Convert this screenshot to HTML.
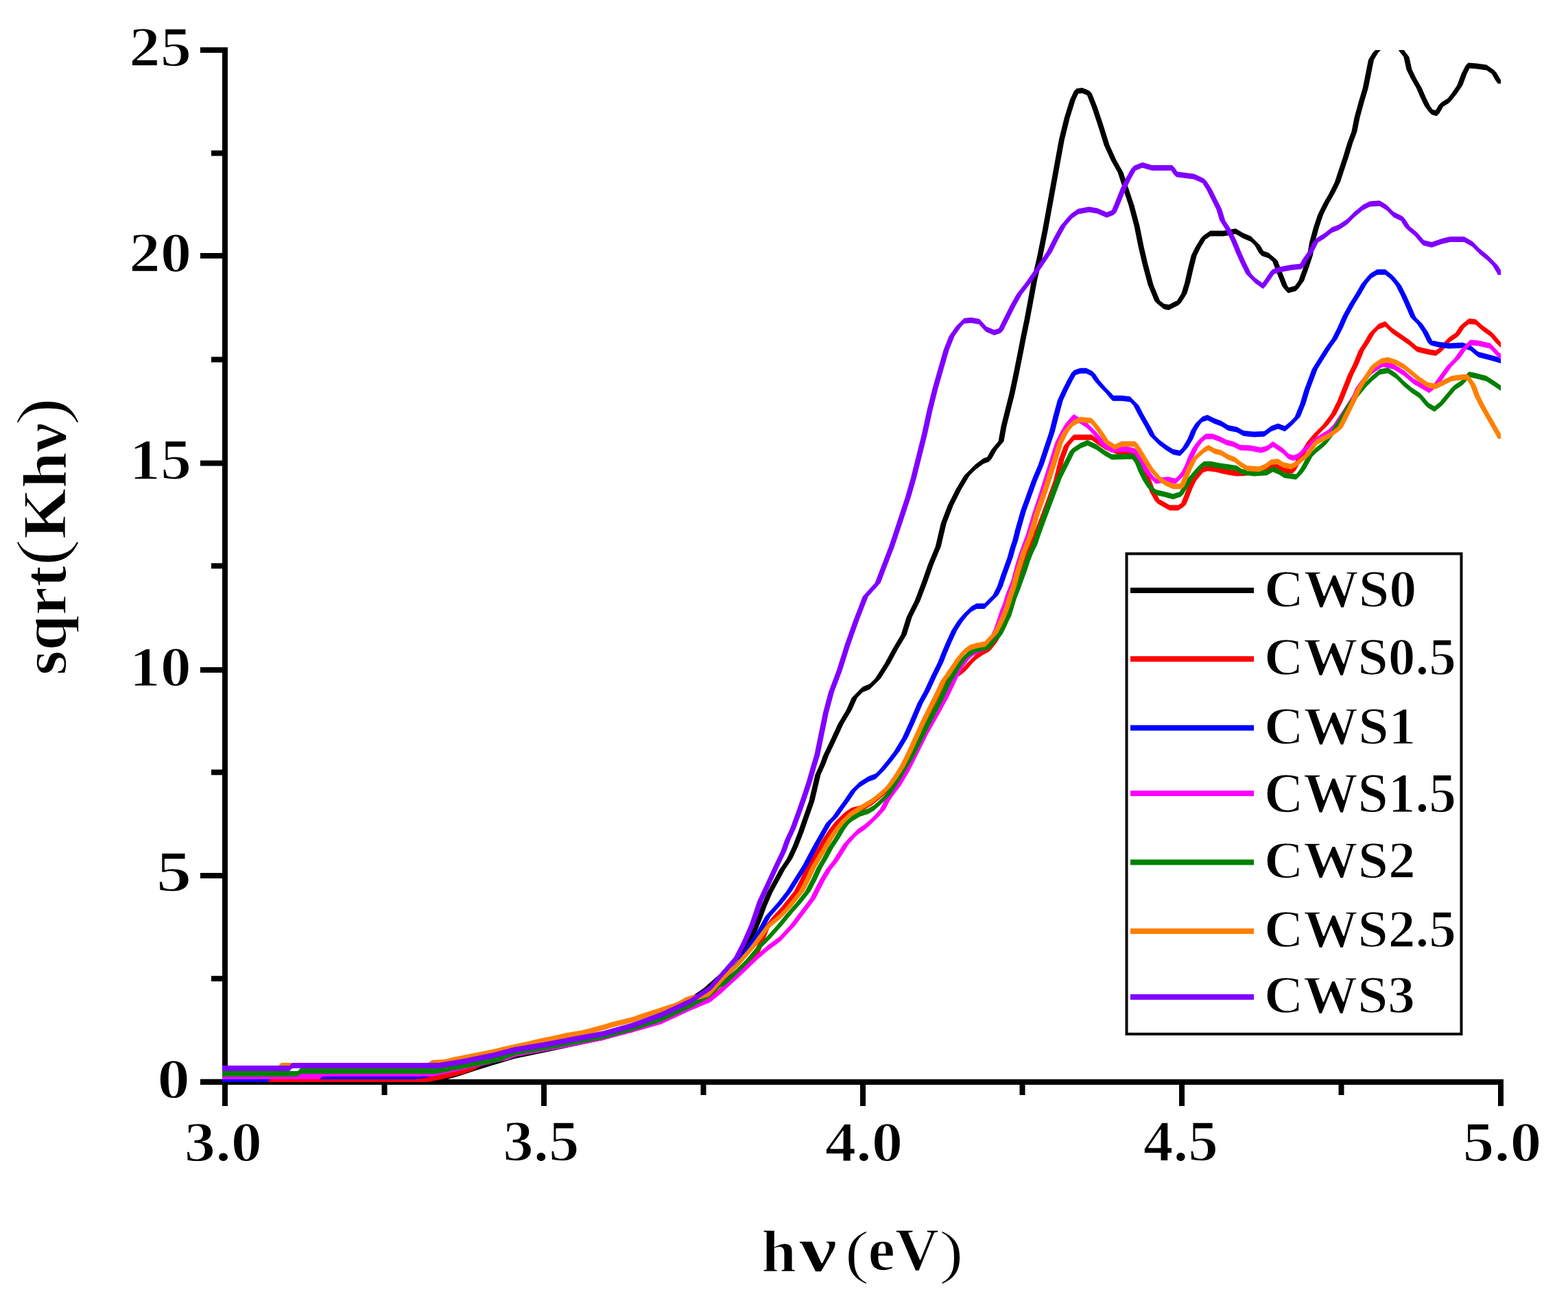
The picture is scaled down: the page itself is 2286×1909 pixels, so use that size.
<!DOCTYPE html><html><head><meta charset="utf-8"><title>sqrt(Khv) vs hv</title><style>html,body{margin:0;padding:0;background:#fff;}svg{display:block;}</style></head><body>
<svg width="2286" height="1909" viewBox="0 0 2286 1909">
<rect x="0" y="0" width="2286" height="1909" fill="#fff"/>
<defs><clipPath id="pc"><rect x="324" y="73" width="1864" height="1505"/></clipPath></defs>
<rect x="324" y="69" width="8" height="1544" fill="#000"/>
<rect x="292" y="1574" width="1900" height="8" fill="#000"/>
<rect x="292" y="69.0" width="32" height="8" fill="#000"/>
<rect x="292" y="369.0" width="32" height="8" fill="#000"/>
<rect x="292" y="671.5" width="32" height="8" fill="#000"/>
<rect x="292" y="973.0" width="32" height="8" fill="#000"/>
<rect x="292" y="1273.0" width="32" height="8" fill="#000"/>
<rect x="292" y="1573.7" width="32" height="8" fill="#000"/>
<rect x="308" y="219.4" width="16" height="8" fill="#000"/>
<rect x="308" y="520.4" width="16" height="8" fill="#000"/>
<rect x="308" y="821.3" width="16" height="8" fill="#000"/>
<rect x="308" y="1122.3" width="16" height="8" fill="#000"/>
<rect x="308" y="1423.2" width="16" height="8" fill="#000"/>
<rect x="324.0" y="1581" width="8" height="32" fill="#000"/>
<rect x="789.0" y="1581" width="8" height="32" fill="#000"/>
<rect x="1254.0" y="1581" width="8" height="32" fill="#000"/>
<rect x="1719.0" y="1581" width="8" height="32" fill="#000"/>
<rect x="2184.0" y="1581" width="8" height="32" fill="#000"/>
<rect x="556.5" y="1581" width="8" height="16" fill="#000"/>
<rect x="1021.5" y="1581" width="8" height="16" fill="#000"/>
<rect x="1486.5" y="1581" width="8" height="16" fill="#000"/>
<rect x="1951.5" y="1581" width="8" height="16" fill="#000"/>
<g clip-path="url(#pc)">
<path fill="#000000" stroke="none" d="M316.0,1574.0L610.0,1574.0L610.0,1582.0L316.0,1582.0ZM610.0,1574.0L626.0,1573.0L626.0,1581.0L610.0,1582.0ZM626.0,1573.0L642.0,1569.0L642.0,1577.0L626.0,1581.0ZM642.0,1569.0L656.0,1565.0L656.0,1573.0L642.0,1577.0ZM656.0,1565.0L670.0,1561.0L670.0,1569.0L656.0,1573.0ZM670.0,1561.0L682.0,1557.0L682.0,1565.0L670.0,1569.0ZM682.0,1557.0L694.0,1553.0L694.0,1561.0L682.0,1565.0ZM694.0,1553.0L720.0,1545.0L720.0,1553.0L694.0,1561.0ZM720.0,1545.0L750.0,1536.0L750.0,1544.0L720.0,1553.0ZM750.0,1536.0L792.9,1527.0L792.9,1535.0L750.0,1544.0ZM792.9,1527.0L835.7,1518.0L835.7,1526.0L792.9,1535.0ZM835.7,1518.0L878.6,1509.0L878.6,1517.0L835.7,1526.0ZM878.6,1509.0L921.4,1497.0L921.4,1505.0L878.6,1517.0ZM921.4,1497.0L964.3,1482.0L964.3,1490.0L921.4,1505.0ZM964.3,1482.0L1000.0,1459.0L1000.0,1467.0L964.3,1490.0ZM1000.0,1459.0L1026.0,1441.0L1026.0,1449.0L1000.0,1467.0ZM1026.0,1441.0L1051.0,1419.0L1051.0,1427.0L1026.0,1449.0ZM1047.0,1423.0L1070.0,1397.0L1078.0,1397.0L1055.0,1423.0ZM1074.0,1393.0L1082.0,1387.0L1082.0,1395.0L1074.0,1401.0ZM1078.0,1391.0L1086.0,1377.5L1094.0,1377.5L1086.0,1391.0ZM1086.0,1377.5L1094.0,1361.6L1102.0,1361.6L1094.0,1377.5ZM1094.0,1361.6L1102.0,1342.0L1110.0,1342.0L1102.0,1361.6ZM1102.0,1342.0L1110.0,1320.5L1118.0,1320.5L1110.0,1342.0ZM1110.0,1320.5L1118.0,1302.0L1126.0,1302.0L1118.0,1320.5ZM1118.0,1302.0L1131.0,1278.0L1139.0,1278.0L1126.0,1302.0ZM1131.0,1278.0L1136.0,1268.8L1144.0,1268.8L1139.0,1278.0ZM1136.0,1268.8L1147.4,1251.7L1155.4,1251.7L1144.0,1268.8ZM1147.4,1251.7L1155.4,1234.5L1163.4,1234.5L1155.4,1251.7ZM1155.4,1234.5L1163.4,1214.0L1171.4,1214.0L1163.4,1234.5ZM1163.4,1214.0L1171.3,1191.2L1179.3,1191.2L1171.4,1214.0ZM1171.3,1191.2L1179.3,1168.4L1187.3,1168.4L1179.3,1191.2ZM1179.3,1168.4L1183.9,1149.0L1191.9,1149.0L1187.3,1168.4ZM1183.9,1149.0L1188.5,1129.6L1196.5,1129.6L1191.9,1149.0ZM1188.5,1129.6L1195.3,1114.8L1203.3,1114.8L1196.5,1129.6ZM1195.3,1114.8L1199.9,1102.3L1207.9,1102.3L1203.3,1114.8ZM1199.9,1102.3L1209.8,1081.4L1217.8,1081.4L1207.9,1102.3ZM1209.8,1081.4L1221.8,1055.5L1229.8,1055.5L1217.8,1081.4ZM1221.8,1055.5L1233.8,1035.6L1241.8,1035.6L1229.8,1055.5ZM1233.8,1035.6L1241.8,1017.6L1249.8,1017.6L1241.8,1035.6ZM1241.8,1017.6L1253.7,1005.6L1261.7,1005.6L1249.8,1017.6ZM1257.7,1001.6L1267.7,997.6L1267.7,1005.6L1257.7,1009.6ZM1267.7,997.6L1279.7,985.7L1279.7,993.7L1267.7,1005.6ZM1275.7,989.7L1289.7,967.7L1297.7,967.7L1283.7,989.7ZM1289.7,967.7L1301.6,945.8L1309.6,945.8L1297.7,967.7ZM1301.6,945.8L1313.6,925.8L1321.6,925.8L1309.6,945.8ZM1313.6,925.8L1321.6,899.9L1329.6,899.9L1321.6,925.8ZM1321.6,899.9L1333.6,876.0L1341.6,876.0L1329.6,899.9ZM1333.6,876.0L1343.5,850.0L1351.5,850.0L1341.6,876.0ZM1343.5,850.0L1353.0,823.0L1361.0,823.0L1351.5,850.0ZM1353.0,823.0L1363.7,797.2L1371.7,797.2L1361.0,823.0ZM1363.7,797.2L1371.7,763.2L1379.7,763.2L1371.7,797.2ZM1371.7,763.2L1381.7,737.3L1389.7,737.3L1379.7,763.2ZM1381.7,737.3L1393.6,713.4L1401.6,713.4L1389.7,737.3ZM1393.6,713.4L1405.6,693.4L1413.6,693.4L1401.6,713.4ZM1409.6,689.4L1421.6,677.4L1421.6,685.4L1409.6,697.4ZM1421.6,677.4L1433.6,668.5L1433.6,676.5L1421.6,685.4ZM1433.6,668.5L1441.5,665.5L1441.5,673.5L1433.6,676.5ZM1437.5,669.5L1445.5,655.5L1453.5,655.5L1445.5,669.5ZM1445.5,655.5L1455.5,643.5L1463.5,643.5L1453.5,655.5ZM1455.5,643.5L1459.5,621.6L1467.5,621.6L1463.5,643.5ZM1459.5,621.6L1465.5,597.6L1473.5,597.6L1467.5,621.6ZM1465.5,597.6L1471.5,573.7L1479.5,573.7L1473.5,597.6ZM1471.5,573.7L1477.4,545.8L1485.4,545.8L1479.5,573.7ZM1477.4,545.8L1483.4,515.8L1491.4,515.8L1485.4,545.8ZM1483.4,515.8L1488.4,489.9L1496.4,489.9L1491.4,515.8ZM1488.4,489.9L1493.4,466.0L1501.4,466.0L1496.4,489.9ZM1493.4,466.0L1496.9,447.2L1504.9,447.2L1501.4,466.0ZM1496.9,447.2L1503.9,409.3L1511.9,409.3L1504.9,447.2ZM1503.9,409.3L1511.8,375.3L1519.8,375.3L1511.9,409.3ZM1511.8,375.3L1519.8,335.4L1527.8,335.4L1519.8,375.3ZM1519.8,335.4L1527.8,291.5L1535.8,291.5L1527.8,335.4ZM1527.8,291.5L1535.8,247.6L1543.8,247.6L1535.8,291.5ZM1535.8,247.6L1543.8,203.7L1551.8,203.7L1543.8,247.6ZM1543.8,203.7L1551.7,171.8L1559.7,171.8L1551.8,203.7ZM1551.7,171.8L1559.7,145.9L1567.7,145.9L1559.7,171.8ZM1559.7,145.9L1565.7,132.9L1573.7,132.9L1567.7,145.9ZM1569.7,128.9L1577.7,127.9L1577.7,135.9L1569.7,136.9ZM1577.7,127.9L1587.7,131.9L1587.7,139.9L1577.7,135.9ZM1591.7,135.9L1599.6,155.9L1591.6,155.9L1583.7,135.9ZM1599.6,155.9L1607.6,179.8L1599.6,179.8L1591.6,155.9ZM1607.6,179.8L1617.6,211.7L1609.6,211.7L1599.6,179.8ZM1617.6,211.7L1627.6,233.7L1619.6,233.7L1609.6,211.7ZM1627.6,233.7L1637.6,251.6L1629.6,251.6L1619.6,233.7ZM1637.6,251.6L1645.5,275.6L1637.5,275.6L1629.6,251.6ZM1645.5,275.6L1653.5,299.5L1645.5,299.5L1637.5,275.6ZM1653.5,299.5L1661.5,329.5L1653.5,329.5L1645.5,299.5ZM1661.5,329.5L1667.5,359.4L1659.5,359.4L1653.5,329.5ZM1667.5,359.4L1673.5,385.3L1665.5,385.3L1659.5,359.4ZM1673.5,385.3L1681.5,415.2L1673.5,415.2L1665.5,385.3ZM1681.5,415.2L1691.4,439.2L1683.4,439.2L1673.5,415.2ZM1687.4,435.2L1697.0,443.0L1697.0,451.0L1687.4,443.2ZM1697.0,443.0L1704.0,444.3L1704.0,452.3L1697.0,451.0ZM1704.0,444.3L1718.3,437.1L1718.3,445.1L1704.0,452.3ZM1714.3,441.1L1722.3,428.3L1730.3,428.3L1722.3,441.1ZM1722.3,428.3L1727.1,412.4L1735.1,412.4L1730.3,428.3ZM1727.1,412.4L1731.9,391.6L1739.9,391.6L1735.1,412.4ZM1731.9,391.6L1736.7,372.5L1744.7,372.5L1739.9,391.6ZM1736.7,372.5L1743.1,359.7L1751.1,359.7L1744.7,372.5ZM1743.1,359.7L1751.0,346.9L1759.0,346.9L1751.1,359.7ZM1755.0,342.9L1764.6,336.5L1764.6,344.5L1755.0,350.9ZM1764.6,336.5L1783.8,336.5L1783.8,344.5L1764.6,344.5ZM1783.8,336.5L1801.4,333.3L1801.4,341.3L1783.8,344.5ZM1801.4,333.3L1812.5,339.7L1812.5,347.7L1801.4,341.3ZM1812.5,339.7L1823.7,344.5L1823.7,352.5L1812.5,347.7ZM1827.7,348.5L1837.3,358.1L1829.3,358.1L1819.7,348.5ZM1837.3,358.1L1843.7,369.3L1835.7,369.3L1829.3,358.1ZM1839.7,365.3L1849.3,368.5L1849.3,376.5L1839.7,373.3ZM1849.3,368.5L1858.8,376.4L1858.8,384.4L1849.3,376.5ZM1862.8,380.4L1870.8,401.2L1862.8,401.2L1854.8,380.4ZM1870.8,401.2L1877.2,417.2L1869.2,417.2L1862.8,401.2ZM1877.2,417.2L1882.0,423.6L1874.0,423.6L1869.2,417.2ZM1878.0,419.6L1889.2,416.4L1889.2,424.4L1878.0,427.6ZM1885.2,420.4L1893.2,409.2L1901.2,409.2L1893.2,420.4ZM1893.2,409.2L1899.6,391.6L1907.6,391.6L1901.2,409.2ZM1899.6,391.6L1905.9,372.5L1913.9,372.5L1907.6,391.6ZM1905.9,372.5L1909.1,353.3L1917.1,353.3L1913.9,372.5ZM1909.1,353.3L1915.0,331.5L1923.0,331.5L1917.1,353.3ZM1915.0,331.5L1921.2,313.0L1929.2,313.0L1923.0,331.5ZM1921.2,313.0L1929.4,296.6L1937.4,296.6L1929.2,313.0ZM1929.4,296.6L1937.6,282.2L1945.6,282.2L1937.4,296.6ZM1937.6,282.2L1945.8,265.8L1953.8,265.8L1945.6,282.2ZM1945.8,265.8L1951.9,247.3L1959.9,247.3L1953.8,265.8ZM1951.9,247.3L1958.1,228.8L1966.1,228.8L1959.9,247.3ZM1958.1,228.8L1964.3,208.3L1972.3,208.3L1966.1,228.8ZM1964.3,208.3L1970.4,191.9L1978.4,191.9L1972.3,208.3ZM1970.4,191.9L1974.5,171.4L1982.5,171.4L1978.4,191.9ZM1974.5,171.4L1980.7,148.8L1988.7,148.8L1982.5,171.4ZM1980.7,148.8L1986.8,128.3L1994.8,128.3L1988.7,148.8ZM1986.8,128.3L1990.9,107.7L1998.9,107.7L1994.8,128.3ZM1990.9,107.7L1995.0,87.2L2003.0,87.2L1998.9,107.7ZM1995.0,87.2L2001.2,76.9L2009.2,76.9L2003.0,87.2ZM2001.2,76.9L2008.0,70.0L2016.0,70.0L2009.2,76.9ZM2012.0,66.0L2027.0,54.0L2027.0,62.0L2012.0,74.0ZM2027.0,54.0L2040.0,64.0L2040.0,72.0L2027.0,62.0ZM2044.0,68.0L2048.2,74.9L2040.2,74.9L2036.0,68.0ZM2048.2,74.9L2054.4,83.1L2046.4,83.1L2040.2,74.9ZM2054.4,83.1L2058.5,101.6L2050.5,101.6L2046.4,83.1ZM2058.5,101.6L2064.6,113.9L2056.6,113.9L2050.5,101.6ZM2064.6,113.9L2072.8,128.3L2064.8,128.3L2056.6,113.9ZM2072.8,128.3L2079.0,142.6L2071.0,142.6L2064.8,128.3ZM2079.0,142.6L2085.1,154.9L2077.1,154.9L2071.0,142.6ZM2085.1,154.9L2091.3,163.2L2083.3,163.2L2077.1,154.9ZM2087.3,159.2L2094.5,161.2L2094.5,169.2L2087.3,167.2ZM2090.5,165.2L2097.7,152.9L2105.7,152.9L2098.5,165.2ZM2101.7,148.9L2111.9,142.7L2111.9,150.7L2101.7,156.9ZM2107.9,146.7L2116.1,136.5L2124.1,136.5L2115.9,146.7ZM2116.1,136.5L2124.4,124.2L2132.4,124.2L2124.1,136.5ZM2124.4,124.2L2130.5,107.7L2138.5,107.7L2132.4,124.2ZM2130.5,107.7L2136.7,95.4L2144.7,95.4L2138.5,107.7ZM2140.7,91.4L2153.0,92.4L2153.0,100.4L2140.7,99.4ZM2153.0,92.4L2167.4,94.5L2167.4,102.5L2153.0,100.4ZM2167.4,94.5L2177.6,101.7L2177.6,109.7L2167.4,102.5ZM2181.6,105.7L2188.8,118.0L2180.8,118.0L2173.6,105.7ZM2188.8,118.0L2192.0,122.0L2184.0,122.0L2180.8,118.0ZM1051.0,1419.0L1055.0,1423.0L1051.0,1427.0L1047.0,1423.0ZM1074.0,1393.0L1078.0,1397.0L1074.0,1401.0L1070.0,1397.0ZM1082.0,1387.0L1086.0,1391.0L1082.0,1395.0L1078.0,1391.0ZM1257.7,1001.6L1261.7,1005.6L1257.7,1009.6L1253.7,1005.6ZM1279.7,985.7L1283.7,989.7L1279.7,993.7L1275.7,989.7ZM1409.6,689.4L1413.6,693.4L1409.6,697.4L1405.6,693.4ZM1441.5,665.5L1445.5,669.5L1441.5,673.5L1437.5,669.5ZM1569.7,128.9L1573.7,132.9L1569.7,136.9L1565.7,132.9ZM1587.7,131.9L1591.7,135.9L1587.7,139.9L1583.7,135.9ZM1687.4,435.2L1691.4,439.2L1687.4,443.2L1683.4,439.2ZM1718.3,437.1L1722.3,441.1L1718.3,445.1L1714.3,441.1ZM1755.0,342.9L1759.0,346.9L1755.0,350.9L1751.0,346.9ZM1823.7,344.5L1827.7,348.5L1823.7,352.5L1819.7,348.5ZM1839.7,365.3L1843.7,369.3L1839.7,373.3L1835.7,369.3ZM1858.8,376.4L1862.8,380.4L1858.8,384.4L1854.8,380.4ZM1878.0,419.6L1882.0,423.6L1878.0,427.6L1874.0,423.6ZM1889.2,416.4L1893.2,420.4L1889.2,424.4L1885.2,420.4ZM2012.0,66.0L2016.0,70.0L2012.0,74.0L2008.0,70.0ZM2040.0,64.0L2044.0,68.0L2040.0,72.0L2036.0,68.0ZM2087.3,159.2L2091.3,163.2L2087.3,167.2L2083.3,163.2ZM2094.5,161.2L2098.5,165.2L2094.5,169.2L2090.5,165.2ZM2101.7,148.9L2105.7,152.9L2101.7,156.9L2097.7,152.9ZM2111.9,142.7L2115.9,146.7L2111.9,150.7L2107.9,146.7ZM2140.7,91.4L2144.7,95.4L2140.7,99.4L2136.7,95.4ZM2177.6,101.7L2181.6,105.7L2177.6,109.7L2173.6,105.7Z"/>
<path fill="#ff0000" stroke="none" d="M316.0,1574.0L606.0,1574.0L606.0,1582.0L316.0,1582.0ZM606.0,1574.0L622.0,1570.0L622.0,1578.0L606.0,1582.0ZM622.0,1570.0L644.0,1566.0L644.0,1574.0L622.0,1578.0ZM644.0,1566.0L660.0,1562.0L660.0,1570.0L644.0,1574.0ZM660.0,1562.0L676.0,1558.0L676.0,1566.0L660.0,1570.0ZM676.0,1558.0L690.0,1553.0L690.0,1561.0L676.0,1566.0ZM690.0,1553.0L704.0,1545.0L704.0,1553.0L690.0,1561.0ZM704.0,1545.0L720.0,1541.0L720.0,1549.0L704.0,1553.0ZM720.0,1541.0L740.0,1537.0L740.0,1545.0L720.0,1549.0ZM740.0,1537.0L750.0,1532.4L750.0,1540.4L740.0,1545.0ZM750.0,1532.4L792.9,1524.6L792.9,1532.6L750.0,1540.4ZM792.9,1524.6L835.7,1516.7L835.7,1524.7L792.9,1532.6ZM835.7,1516.7L878.6,1508.0L878.6,1516.0L835.7,1524.7ZM878.6,1508.0L921.4,1496.7L921.4,1504.7L878.6,1516.0ZM921.4,1496.7L964.3,1484.6L964.3,1492.6L921.4,1504.7ZM964.3,1484.6L1007.0,1464.6L1007.0,1472.6L964.3,1492.6ZM1007.0,1464.6L1035.7,1452.4L1035.7,1460.4L1007.0,1472.6ZM1035.7,1452.4L1050.0,1441.0L1050.0,1449.0L1035.7,1460.4ZM1050.0,1441.0L1062.6,1429.0L1062.6,1437.0L1050.0,1449.0ZM1062.6,1429.0L1085.0,1408.0L1085.0,1416.0L1062.6,1437.0ZM1081.0,1412.0L1098.5,1392.0L1106.5,1392.0L1089.0,1412.0ZM1098.5,1392.0L1114.5,1351.3L1122.5,1351.3L1106.5,1392.0ZM1114.5,1351.3L1127.0,1336.0L1135.0,1336.0L1122.5,1351.3ZM1127.0,1336.0L1139.0,1323.0L1147.0,1323.0L1135.0,1336.0ZM1139.0,1323.0L1157.5,1300.0L1165.5,1300.0L1147.0,1323.0ZM1157.5,1300.0L1166.6,1282.4L1174.6,1282.4L1165.5,1300.0ZM1166.6,1282.4L1174.6,1265.3L1182.6,1265.3L1174.6,1282.4ZM1174.6,1265.3L1182.6,1251.7L1190.6,1251.7L1182.6,1265.3ZM1182.6,1251.7L1191.7,1236.8L1199.7,1236.8L1190.6,1251.7ZM1191.7,1236.8L1199.7,1223.1L1207.7,1223.1L1199.7,1236.8ZM1199.7,1223.1L1208.8,1209.5L1216.8,1209.5L1207.7,1223.1ZM1208.8,1209.5L1217.9,1198.1L1225.9,1198.1L1216.8,1209.5ZM1221.9,1194.1L1231.1,1184.9L1231.1,1192.9L1221.9,1202.1ZM1231.1,1184.9L1241.3,1178.1L1241.3,1186.1L1231.1,1192.9ZM1241.3,1178.1L1259.7,1173.3L1259.7,1181.3L1241.3,1186.1ZM1259.7,1173.3L1271.1,1166.4L1271.1,1174.4L1259.7,1181.3ZM1271.1,1166.4L1282.5,1157.3L1282.5,1165.3L1271.1,1174.4ZM1282.5,1157.3L1291.7,1149.3L1291.7,1157.3L1282.5,1165.3ZM1287.7,1153.3L1294.5,1145.3L1302.5,1145.3L1295.7,1153.3ZM1294.5,1145.3L1301.0,1136.1L1309.0,1136.1L1302.5,1145.3ZM1301.0,1136.1L1311.0,1120.4L1319.0,1120.4L1309.0,1136.1ZM1311.0,1120.4L1321.0,1100.6L1329.0,1100.6L1319.0,1120.4ZM1321.0,1100.6L1331.0,1078.8L1339.0,1078.8L1329.0,1100.6ZM1331.0,1078.8L1341.0,1056.6L1349.0,1056.6L1339.0,1078.8ZM1341.0,1056.6L1351.0,1036.6L1359.0,1036.6L1349.0,1056.6ZM1351.0,1036.6L1361.0,1016.6L1369.0,1016.6L1359.0,1036.6ZM1361.0,1016.6L1371.0,995.2L1379.0,995.2L1369.0,1016.6ZM1375.0,991.2L1390.0,983.0L1390.0,991.0L1375.0,999.2ZM1390.0,983.0L1400.0,977.0L1400.0,985.0L1390.0,991.0ZM1400.0,977.0L1406.4,971.7L1406.4,979.7L1400.0,985.0ZM1402.4,975.7L1409.9,966.9L1417.9,966.9L1410.4,975.7ZM1413.9,962.9L1421.4,955.4L1421.4,963.4L1413.9,970.9ZM1421.4,955.4L1426.4,951.6L1426.4,959.6L1421.4,963.4ZM1426.4,951.6L1434.0,946.6L1434.0,954.6L1426.4,959.6ZM1434.0,946.6L1441.5,942.8L1441.5,950.8L1434.0,954.6ZM1437.5,946.8L1446.0,936.0L1454.0,936.0L1445.5,946.8ZM1446.0,936.0L1456.0,918.0L1464.0,918.0L1454.0,936.0ZM1456.0,918.0L1466.0,893.0L1474.0,893.0L1464.0,918.0ZM1466.0,893.0L1476.0,862.0L1484.0,862.0L1474.0,893.0ZM1476.0,862.0L1486.0,830.0L1494.0,830.0L1484.0,862.0ZM1486.0,830.0L1496.0,800.0L1504.0,800.0L1494.0,830.0ZM1496.0,800.0L1505.2,782.5L1513.2,782.5L1504.0,800.0ZM1505.2,782.5L1516.0,755.0L1524.0,755.0L1513.2,782.5ZM1516.0,755.0L1526.0,728.0L1534.0,728.0L1524.0,755.0ZM1526.0,728.0L1535.7,701.6L1543.7,701.6L1534.0,728.0ZM1535.7,701.6L1543.6,669.7L1551.6,669.7L1543.7,701.6ZM1543.6,669.7L1551.0,650.0L1559.0,650.0L1551.6,669.7ZM1551.0,650.0L1561.6,637.8L1569.6,637.8L1559.0,650.0ZM1565.6,633.8L1591.5,633.8L1591.5,641.8L1565.6,641.8ZM1591.5,633.8L1599.5,639.8L1599.5,647.8L1591.5,641.8ZM1599.5,639.8L1611.5,647.8L1611.5,655.8L1599.5,647.8ZM1611.5,647.8L1629.5,654.7L1629.5,662.7L1611.5,655.8ZM1629.5,654.7L1649.4,655.0L1649.4,663.0L1629.5,662.7ZM1649.4,655.0L1655.0,658.0L1655.0,666.0L1649.4,663.0ZM1659.0,662.0L1666.0,675.0L1658.0,675.0L1651.0,662.0ZM1666.0,675.0L1676.6,695.5L1668.6,695.5L1658.0,675.0ZM1676.6,695.5L1684.1,716.8L1676.1,716.8L1668.6,695.5ZM1684.1,716.8L1691.7,730.6L1683.7,730.6L1676.1,716.8ZM1687.7,726.6L1696.4,731.6L1696.4,739.6L1687.7,734.6ZM1696.4,731.6L1705.2,736.6L1705.2,744.6L1696.4,739.6ZM1705.2,736.6L1717.8,736.6L1717.8,744.6L1705.2,744.6ZM1717.8,736.6L1725.3,731.6L1725.3,739.6L1717.8,744.6ZM1721.3,735.6L1726.3,723.0L1734.3,723.0L1729.3,735.6ZM1726.3,723.0L1731.3,710.5L1739.3,710.5L1734.3,723.0ZM1731.3,710.5L1736.4,700.5L1744.4,700.5L1739.3,710.5ZM1736.4,700.5L1742.6,693.0L1750.6,693.0L1744.4,700.5ZM1742.6,693.0L1748.9,685.4L1756.9,685.4L1750.6,693.0ZM1752.9,681.4L1760.4,678.9L1760.4,686.9L1752.9,689.4ZM1760.4,678.9L1771.7,680.2L1771.7,688.2L1760.4,686.9ZM1771.7,680.2L1781.7,682.7L1781.7,690.7L1771.7,688.2ZM1781.7,682.7L1794.3,685.2L1794.3,693.2L1781.7,690.7ZM1794.3,685.2L1803.1,686.5L1803.1,694.5L1794.3,693.2ZM1803.1,686.5L1815.0,686.0L1815.0,694.0L1803.1,694.5ZM1815.0,686.0L1830.0,684.0L1830.0,692.0L1815.0,694.0ZM1830.0,684.0L1845.0,680.0L1845.0,688.0L1830.0,692.0ZM1845.0,680.0L1858.3,673.9L1858.3,681.9L1845.0,688.0ZM1858.3,673.9L1865.8,678.9L1865.8,686.9L1858.3,681.9ZM1865.8,678.9L1878.3,682.7L1878.3,690.7L1865.8,686.9ZM1878.3,682.7L1885.0,682.0L1885.0,690.0L1878.3,690.7ZM1881.0,686.0L1891.0,668.0L1899.0,668.0L1889.0,686.0ZM1891.0,668.0L1905.1,644.9L1913.1,644.9L1899.0,668.0ZM1905.1,644.9L1914.8,633.3L1922.8,633.3L1913.1,644.9ZM1914.8,633.3L1928.3,619.7L1936.3,619.7L1922.8,633.3ZM1928.3,619.7L1940.0,604.2L1948.0,604.2L1936.3,619.7ZM1940.0,604.2L1949.7,584.8L1957.7,584.8L1948.0,604.2ZM1949.7,584.8L1957.4,565.5L1965.4,565.5L1957.7,584.8ZM1957.4,565.5L1965.2,546.1L1973.2,546.1L1965.4,565.5ZM1965.2,546.1L1972.9,530.6L1980.9,530.6L1973.2,546.1ZM1972.9,530.6L1980.7,511.2L1988.7,511.2L1980.9,530.6ZM1980.7,511.2L1988.4,499.6L1996.4,499.6L1988.7,511.2ZM1988.4,499.6L1996.2,486.0L2004.2,486.0L1996.4,499.6ZM2000.2,482.0L2009.9,472.3L2009.9,480.3L2000.2,490.0ZM2009.9,472.3L2019.6,468.4L2019.6,476.4L2009.9,480.3ZM2019.6,468.4L2029.3,478.1L2029.3,486.1L2019.6,476.4ZM2029.3,478.1L2040.9,485.9L2040.9,493.9L2029.3,486.1ZM2040.9,485.9L2054.5,495.6L2054.5,503.6L2040.9,493.9ZM2054.5,495.6L2066.1,505.3L2066.1,513.3L2054.5,503.6ZM2066.1,505.3L2081.6,509.1L2081.6,517.1L2066.1,513.3ZM2081.6,509.1L2093.2,511.1L2093.2,519.1L2081.6,517.1ZM2093.2,511.1L2101.0,505.3L2101.0,513.3L2093.2,519.1ZM2097.0,509.3L2108.6,495.7L2116.6,495.7L2105.0,509.3ZM2112.6,491.7L2124.2,483.9L2124.2,491.9L2112.6,499.7ZM2120.2,487.9L2128.0,476.3L2136.0,476.3L2128.2,487.9ZM2132.0,472.3L2141.7,464.5L2141.7,472.5L2132.0,480.3ZM2141.7,464.5L2151.4,465.5L2151.4,473.5L2141.7,472.5ZM2151.4,465.5L2161.1,474.2L2161.1,482.2L2151.4,473.5ZM2161.1,474.2L2174.6,483.9L2174.6,491.9L2161.1,482.2ZM2178.6,487.9L2188.3,499.6L2180.3,499.6L2170.6,487.9ZM2184.3,495.6L2188.0,499.0L2188.0,507.0L2184.3,503.6ZM1085.0,1408.0L1089.0,1412.0L1085.0,1416.0L1081.0,1412.0ZM1221.9,1194.1L1225.9,1198.1L1221.9,1202.1L1217.9,1198.1ZM1291.7,1149.3L1295.7,1153.3L1291.7,1157.3L1287.7,1153.3ZM1375.0,991.2L1379.0,995.2L1375.0,999.2L1371.0,995.2ZM1406.4,971.7L1410.4,975.7L1406.4,979.7L1402.4,975.7ZM1413.9,962.9L1417.9,966.9L1413.9,970.9L1409.9,966.9ZM1441.5,942.8L1445.5,946.8L1441.5,950.8L1437.5,946.8ZM1565.6,633.8L1569.6,637.8L1565.6,641.8L1561.6,637.8ZM1655.0,658.0L1659.0,662.0L1655.0,666.0L1651.0,662.0ZM1687.7,726.6L1691.7,730.6L1687.7,734.6L1683.7,730.6ZM1725.3,731.6L1729.3,735.6L1725.3,739.6L1721.3,735.6ZM1752.9,681.4L1756.9,685.4L1752.9,689.4L1748.9,685.4ZM1885.0,682.0L1889.0,686.0L1885.0,690.0L1881.0,686.0ZM2000.2,482.0L2004.2,486.0L2000.2,490.0L1996.2,486.0ZM2101.0,505.3L2105.0,509.3L2101.0,513.3L2097.0,509.3ZM2112.6,491.7L2116.6,495.7L2112.6,499.7L2108.6,495.7ZM2124.2,483.9L2128.2,487.9L2124.2,491.9L2120.2,487.9ZM2132.0,472.3L2136.0,476.3L2132.0,480.3L2128.0,476.3ZM2174.6,483.9L2178.6,487.9L2174.6,491.9L2170.6,487.9ZM2184.3,495.6L2188.3,499.6L2184.3,503.6L2180.3,499.6Z"/>
<path fill="#0000ff" stroke="none" d="M316.0,1570.0L390.0,1570.0L390.0,1578.0L316.0,1578.0ZM390.0,1570.0L394.0,1566.0L394.0,1574.0L390.0,1578.0ZM394.0,1566.0L606.0,1566.0L606.0,1574.0L394.0,1574.0ZM606.0,1566.0L620.0,1564.0L620.0,1572.0L606.0,1574.0ZM620.0,1564.0L640.0,1560.0L640.0,1568.0L620.0,1572.0ZM640.0,1560.0L660.0,1553.0L660.0,1561.0L640.0,1568.0ZM660.0,1553.0L688.0,1547.0L688.0,1555.0L660.0,1561.0ZM688.0,1547.0L708.0,1543.0L708.0,1551.0L688.0,1555.0ZM708.0,1543.0L728.0,1539.0L728.0,1547.0L708.0,1551.0ZM728.0,1539.0L750.0,1530.2L750.0,1538.2L728.0,1547.0ZM750.0,1530.2L792.9,1522.8L792.9,1530.8L750.0,1538.2ZM792.9,1522.8L835.7,1514.7L835.7,1522.7L792.9,1530.8ZM835.7,1514.7L878.6,1506.4L878.6,1514.4L835.7,1522.7ZM878.6,1506.4L921.4,1494.7L921.4,1502.7L878.6,1514.4ZM921.4,1494.7L964.3,1480.8L964.3,1488.8L921.4,1502.7ZM964.3,1480.8L1007.0,1460.8L1007.0,1468.8L964.3,1488.8ZM1007.0,1460.8L1035.7,1445.1L1035.7,1453.1L1007.0,1468.8ZM1035.7,1445.1L1050.0,1431.0L1050.0,1439.0L1035.7,1453.1ZM1046.0,1435.0L1058.6,1419.7L1066.6,1419.7L1054.0,1435.0ZM1058.6,1419.7L1075.7,1400.3L1083.7,1400.3L1066.6,1419.7ZM1075.7,1400.3L1087.1,1382.1L1095.1,1382.1L1083.7,1400.3ZM1087.1,1382.1L1104.2,1357.0L1112.2,1357.0L1095.1,1382.1ZM1104.2,1357.0L1115.6,1336.5L1123.6,1336.5L1112.2,1357.0ZM1115.6,1336.5L1133.8,1316.0L1141.8,1316.0L1123.6,1336.5ZM1133.8,1316.0L1146.3,1300.0L1154.3,1300.0L1141.8,1316.0ZM1146.3,1300.0L1158.8,1280.0L1166.8,1280.0L1154.3,1300.0ZM1158.8,1280.0L1170.2,1262.0L1178.2,1262.0L1166.8,1280.0ZM1170.2,1262.0L1179.3,1244.8L1187.3,1244.8L1178.2,1262.0ZM1179.3,1244.8L1187.3,1230.0L1195.3,1230.0L1187.3,1244.8ZM1187.3,1230.0L1196.4,1214.0L1204.4,1214.0L1195.3,1230.0ZM1196.4,1214.0L1204.4,1200.3L1212.4,1200.3L1204.4,1214.0ZM1208.4,1196.3L1217.5,1187.2L1217.5,1195.2L1208.4,1204.3ZM1213.5,1191.2L1221.5,1179.8L1229.5,1179.8L1221.5,1191.2ZM1221.5,1179.8L1230.6,1167.3L1238.6,1167.3L1229.5,1179.8ZM1230.6,1167.3L1239.8,1153.6L1247.8,1153.6L1238.6,1167.3ZM1243.8,1149.6L1252.9,1140.5L1252.9,1148.5L1243.8,1157.6ZM1252.9,1140.5L1265.4,1132.5L1265.4,1140.5L1252.9,1148.5ZM1265.4,1132.5L1276.8,1127.9L1276.8,1135.9L1265.4,1140.5ZM1276.8,1127.9L1286.0,1118.8L1286.0,1126.8L1276.8,1135.9ZM1282.0,1122.8L1293.4,1109.1L1301.4,1109.1L1290.0,1122.8ZM1293.4,1109.1L1303.6,1095.4L1311.6,1095.4L1301.4,1109.1ZM1303.6,1095.4L1315.6,1075.5L1323.6,1075.5L1311.6,1095.4ZM1315.6,1075.5L1325.6,1053.5L1333.6,1053.5L1323.6,1075.5ZM1325.6,1053.5L1337.5,1025.6L1345.5,1025.6L1333.6,1053.5ZM1337.5,1025.6L1347.5,1007.6L1355.5,1007.6L1345.5,1025.6ZM1347.5,1007.6L1357.5,985.7L1365.5,985.7L1355.5,1007.6ZM1357.5,985.7L1367.3,966.0L1375.3,966.0L1365.5,985.7ZM1367.3,966.0L1372.3,953.1L1380.3,953.1L1375.3,966.0ZM1372.3,953.1L1379.8,935.5L1387.8,935.5L1380.3,953.1ZM1379.8,935.5L1387.3,919.2L1395.3,919.2L1387.8,935.5ZM1387.3,919.2L1396.1,905.4L1404.1,905.4L1395.3,919.2ZM1396.1,905.4L1403.6,896.6L1411.6,896.6L1404.1,905.4ZM1407.6,892.6L1416.4,883.9L1416.4,891.9L1407.6,900.6ZM1416.4,883.9L1423.9,880.1L1423.9,888.1L1416.4,891.9ZM1423.9,880.1L1435.2,880.1L1435.2,888.1L1423.9,888.1ZM1435.2,880.1L1442.7,872.6L1442.7,880.6L1435.2,888.1ZM1438.7,876.6L1447.5,867.8L1455.5,867.8L1446.7,876.6ZM1447.5,867.8L1453.8,855.3L1461.8,855.3L1455.5,867.8ZM1453.8,855.3L1458.8,840.2L1466.8,840.2L1461.8,855.3ZM1458.8,840.2L1463.8,826.4L1471.8,826.4L1466.8,840.2ZM1463.8,826.4L1468.8,812.6L1476.8,812.6L1471.8,826.4ZM1468.8,812.6L1472.6,798.8L1480.6,798.8L1476.8,812.6ZM1472.6,798.8L1476.4,787.5L1484.4,787.5L1480.6,798.8ZM1476.4,787.5L1479.8,773.5L1487.8,773.5L1484.4,787.5ZM1479.8,773.5L1487.8,745.5L1495.8,745.5L1487.8,773.5ZM1487.8,745.5L1495.8,723.6L1503.8,723.6L1495.8,745.5ZM1495.8,723.6L1503.7,701.6L1511.7,701.6L1503.8,723.6ZM1503.7,701.6L1513.7,677.7L1521.7,677.7L1511.7,701.6ZM1513.7,677.7L1521.7,653.8L1529.7,653.8L1521.7,677.7ZM1521.7,653.8L1529.7,629.8L1537.7,629.8L1529.7,653.8ZM1529.7,629.8L1535.7,605.9L1543.7,605.9L1537.7,629.8ZM1535.7,605.9L1541.7,583.9L1549.7,583.9L1543.7,605.9ZM1541.7,583.9L1548.6,569.0L1556.6,569.0L1549.7,583.9ZM1548.6,569.0L1556.1,554.2L1564.1,554.2L1556.6,569.0ZM1556.1,554.2L1562.0,543.8L1570.0,543.8L1564.1,554.2ZM1566.0,539.8L1574.9,536.8L1574.9,544.8L1566.0,547.8ZM1574.9,536.8L1583.8,536.8L1583.8,544.8L1574.9,544.8ZM1583.8,536.8L1592.7,541.3L1592.7,549.3L1583.8,544.8ZM1596.7,545.3L1602.6,554.2L1594.6,554.2L1588.7,545.3ZM1602.6,554.2L1611.5,564.5L1603.5,564.5L1594.6,554.2ZM1607.5,560.5L1616.4,569.4L1616.4,577.4L1607.5,568.5ZM1620.4,573.4L1626.3,580.8L1618.3,580.8L1612.4,573.4ZM1622.3,576.8L1635.7,576.8L1635.7,584.8L1622.3,584.8ZM1635.7,576.8L1647.5,578.3L1647.5,586.3L1635.7,584.8ZM1647.5,578.3L1656.4,587.2L1656.4,595.2L1647.5,586.3ZM1660.4,591.2L1666.4,603.1L1658.4,603.1L1652.4,591.2ZM1666.4,603.1L1672.3,613.5L1664.3,613.5L1658.4,603.1ZM1672.3,613.5L1678.2,623.8L1670.2,623.8L1664.3,613.5ZM1678.2,623.8L1684.1,635.3L1676.1,635.3L1670.2,623.8ZM1680.1,631.3L1690.2,641.3L1690.2,649.3L1680.1,639.3ZM1690.2,641.3L1700.2,648.8L1700.2,656.8L1690.2,649.3ZM1700.2,648.8L1710.2,655.1L1710.2,663.1L1700.2,656.8ZM1710.2,655.1L1720.3,657.0L1720.3,665.0L1710.2,663.1ZM1716.3,661.0L1723.8,652.8L1731.8,652.8L1724.3,661.0ZM1723.8,652.8L1731.3,640.3L1739.3,640.3L1731.8,652.8ZM1731.3,640.3L1736.4,627.7L1744.4,627.7L1739.3,640.3ZM1736.4,627.7L1742.6,617.7L1750.6,617.7L1744.4,627.7ZM1746.6,613.7L1752.9,607.4L1752.9,615.4L1746.6,621.7ZM1752.9,607.4L1760.4,604.9L1760.4,612.9L1752.9,615.4ZM1760.4,604.9L1770.5,609.9L1770.5,617.9L1760.4,612.9ZM1770.5,609.9L1780.5,613.7L1780.5,621.7L1770.5,617.9ZM1780.5,613.7L1790.5,620.0L1790.5,628.0L1780.5,621.7ZM1790.5,620.0L1803.1,622.5L1803.1,630.5L1790.5,628.0ZM1803.1,622.5L1813.1,628.1L1813.1,636.1L1803.1,630.5ZM1813.1,628.1L1828.2,629.4L1828.2,637.4L1813.1,636.1ZM1828.2,629.4L1843.2,628.8L1843.2,636.8L1828.2,637.4ZM1843.2,628.8L1853.2,621.2L1853.2,629.2L1843.2,636.8ZM1853.2,621.2L1863.3,617.5L1863.3,625.5L1853.2,629.2ZM1863.3,617.5L1873.3,621.2L1873.3,629.2L1863.3,625.5ZM1873.3,621.2L1882.1,613.7L1882.1,621.7L1873.3,629.2ZM1878.1,617.7L1887.6,608.1L1895.6,608.1L1886.1,617.7ZM1887.6,608.1L1895.4,588.7L1903.4,588.7L1895.6,608.1ZM1895.4,588.7L1901.2,569.3L1909.2,569.3L1903.4,588.7ZM1901.2,569.3L1907.0,553.8L1915.0,553.8L1909.2,569.3ZM1907.0,553.8L1912.8,538.3L1920.8,538.3L1915.0,553.8ZM1912.8,538.3L1922.5,522.8L1930.5,522.8L1920.8,538.3ZM1922.5,522.8L1932.2,507.3L1940.2,507.3L1930.5,522.8ZM1932.2,507.3L1941.9,493.7L1949.9,493.7L1940.2,507.3ZM1941.9,493.7L1949.7,478.2L1957.7,478.2L1949.9,493.7ZM1949.7,478.2L1957.4,460.8L1965.4,460.8L1957.7,478.2ZM1957.4,460.8L1967.1,443.3L1975.1,443.3L1965.4,460.8ZM1967.1,443.3L1976.8,427.8L1984.8,427.8L1975.1,443.3ZM1976.8,427.8L1984.5,414.3L1992.5,414.3L1984.8,427.8ZM1984.5,414.3L1994.2,402.6L2002.2,402.6L1992.5,414.3ZM1998.2,398.6L2007.9,392.8L2007.9,400.8L1998.2,406.6ZM2007.9,392.8L2019.6,392.8L2019.6,400.8L2007.9,400.8ZM2019.6,392.8L2029.3,400.6L2029.3,408.6L2019.6,400.8ZM2033.3,404.6L2042.9,416.2L2034.9,416.2L2025.3,404.6ZM2042.9,416.2L2050.7,431.7L2042.7,431.7L2034.9,416.2ZM2050.7,431.7L2058.5,449.2L2050.5,449.2L2042.7,431.7ZM2058.5,449.2L2064.3,462.7L2056.3,462.7L2050.5,449.2ZM2064.3,462.7L2074.0,472.4L2066.0,472.4L2056.3,462.7ZM2074.0,472.4L2081.7,484.1L2073.7,484.1L2066.0,472.4ZM2081.7,484.1L2089.5,499.6L2081.5,499.6L2073.7,484.1ZM2085.5,495.6L2097.1,498.5L2097.1,506.5L2085.5,503.6ZM2097.1,498.5L2112.6,500.4L2112.6,508.4L2097.1,506.5ZM2112.6,500.4L2132.0,499.4L2132.0,507.4L2112.6,508.4ZM2132.0,499.4L2143.6,503.3L2143.6,511.3L2132.0,507.4ZM2143.6,503.3L2155.2,513.0L2155.2,521.0L2143.6,511.3ZM2155.2,513.0L2170.8,516.9L2170.8,524.9L2155.2,521.0ZM2170.8,516.9L2184.3,520.8L2184.3,528.8L2170.8,524.9ZM2184.3,520.8L2188.0,522.0L2188.0,530.0L2184.3,528.8ZM1050.0,1431.0L1054.0,1435.0L1050.0,1439.0L1046.0,1435.0ZM1208.4,1196.3L1212.4,1200.3L1208.4,1204.3L1204.4,1200.3ZM1217.5,1187.2L1221.5,1191.2L1217.5,1195.2L1213.5,1191.2ZM1243.8,1149.6L1247.8,1153.6L1243.8,1157.6L1239.8,1153.6ZM1286.0,1118.8L1290.0,1122.8L1286.0,1126.8L1282.0,1122.8ZM1407.6,892.6L1411.6,896.6L1407.6,900.6L1403.6,896.6ZM1442.7,872.6L1446.7,876.6L1442.7,880.6L1438.7,876.6ZM1566.0,539.8L1570.0,543.8L1566.0,547.8L1562.0,543.8ZM1592.7,541.3L1596.7,545.3L1592.7,549.3L1588.7,545.3ZM1607.5,560.5L1611.5,564.5L1607.5,568.5L1603.5,564.5ZM1616.4,569.4L1620.4,573.4L1616.4,577.4L1612.4,573.4ZM1622.3,576.8L1626.3,580.8L1622.3,584.8L1618.3,580.8ZM1656.4,587.2L1660.4,591.2L1656.4,595.2L1652.4,591.2ZM1680.1,631.3L1684.1,635.3L1680.1,639.3L1676.1,635.3ZM1720.3,657.0L1724.3,661.0L1720.3,665.0L1716.3,661.0ZM1746.6,613.7L1750.6,617.7L1746.6,621.7L1742.6,617.7ZM1882.1,613.7L1886.1,617.7L1882.1,621.7L1878.1,617.7ZM1998.2,398.6L2002.2,402.6L1998.2,406.6L1994.2,402.6ZM2029.3,400.6L2033.3,404.6L2029.3,408.6L2025.3,404.6ZM2085.5,495.6L2089.5,499.6L2085.5,503.6L2081.5,499.6Z"/>
<path fill="#ff00ff" stroke="none" d="M316.0,1566.0L466.0,1566.0L466.0,1574.0L316.0,1574.0ZM466.0,1566.0L470.0,1562.0L470.0,1570.0L466.0,1574.0ZM470.0,1562.0L630.0,1562.0L630.0,1570.0L470.0,1570.0ZM630.0,1562.0L648.0,1558.0L648.0,1566.0L630.0,1570.0ZM648.0,1558.0L668.0,1554.0L668.0,1562.0L648.0,1566.0ZM668.0,1554.0L684.0,1550.0L684.0,1558.0L668.0,1562.0ZM684.0,1550.0L704.0,1546.0L704.0,1554.0L684.0,1558.0ZM704.0,1546.0L720.0,1542.0L720.0,1550.0L704.0,1554.0ZM720.0,1542.0L740.0,1538.0L740.0,1546.0L720.0,1550.0ZM740.0,1538.0L750.0,1533.4L750.0,1541.4L740.0,1546.0ZM750.0,1533.4L792.9,1525.6L792.9,1533.6L750.0,1541.4ZM792.9,1525.6L835.7,1517.7L835.7,1525.7L792.9,1533.6ZM835.7,1517.7L878.6,1509.0L878.6,1517.0L835.7,1525.7ZM878.6,1509.0L921.4,1497.7L921.4,1505.7L878.6,1517.0ZM921.4,1497.7L964.3,1485.6L964.3,1493.6L921.4,1505.7ZM964.3,1485.6L1007.0,1465.6L1007.0,1473.6L964.3,1493.6ZM1007.0,1465.6L1035.7,1453.4L1035.7,1461.4L1007.0,1473.6ZM1035.7,1453.4L1050.0,1442.0L1050.0,1450.0L1035.7,1461.4ZM1050.0,1442.0L1062.6,1430.5L1062.6,1438.5L1050.0,1450.0ZM1062.6,1430.5L1085.0,1410.0L1085.0,1418.0L1062.6,1438.5ZM1085.0,1410.0L1102.5,1393.0L1102.5,1401.0L1085.0,1418.0ZM1102.5,1393.0L1120.0,1378.0L1120.0,1386.0L1102.5,1401.0ZM1120.0,1378.0L1137.0,1365.5L1137.0,1373.5L1120.0,1386.0ZM1133.0,1369.5L1151.6,1349.6L1159.6,1349.6L1141.0,1369.5ZM1151.6,1349.6L1181.5,1309.7L1189.5,1309.7L1159.6,1349.6ZM1181.5,1309.7L1186.2,1300.0L1194.2,1300.0L1189.5,1309.7ZM1186.2,1300.0L1195.3,1282.4L1203.3,1282.4L1194.2,1300.0ZM1195.3,1282.4L1204.4,1267.6L1212.4,1267.6L1203.3,1282.4ZM1204.4,1267.6L1213.5,1256.2L1221.5,1256.2L1212.4,1267.6ZM1213.5,1256.2L1221.5,1243.7L1229.5,1243.7L1221.5,1256.2ZM1221.5,1243.7L1229.5,1231.1L1237.5,1231.1L1229.5,1243.7ZM1229.5,1231.1L1238.6,1220.9L1246.6,1220.9L1237.5,1231.1ZM1242.6,1216.9L1250.6,1208.9L1250.6,1216.9L1242.6,1224.9ZM1250.6,1208.9L1260.9,1202.0L1260.9,1210.0L1250.6,1216.9ZM1260.9,1202.0L1270.0,1194.1L1270.0,1202.1L1260.9,1210.0ZM1266.0,1198.1L1275.1,1188.9L1283.1,1188.9L1274.0,1198.1ZM1275.1,1188.9L1283.1,1179.8L1291.1,1179.8L1283.1,1188.9ZM1283.1,1179.8L1288.8,1168.4L1296.8,1168.4L1291.1,1179.8ZM1288.8,1168.4L1293.4,1161.6L1301.4,1161.6L1296.8,1168.4ZM1293.4,1161.6L1305.6,1145.3L1313.6,1145.3L1301.4,1161.6ZM1305.6,1145.3L1317.6,1125.3L1325.6,1125.3L1313.6,1145.3ZM1317.6,1125.3L1329.6,1101.4L1337.6,1101.4L1325.6,1125.3ZM1329.6,1101.4L1345.5,1069.5L1353.5,1069.5L1337.6,1101.4ZM1345.5,1069.5L1361.5,1041.5L1369.5,1041.5L1353.5,1069.5ZM1361.5,1041.5L1375.5,1015.6L1383.5,1015.6L1369.5,1041.5ZM1375.5,1015.6L1384.8,996.0L1392.8,996.0L1383.5,1015.6ZM1384.8,996.0L1393.6,977.0L1401.6,977.0L1392.8,996.0ZM1393.6,977.0L1403.6,963.1L1411.6,963.1L1401.6,977.0ZM1407.6,959.1L1417.7,949.1L1417.7,957.1L1407.6,967.1ZM1417.7,949.1L1430.2,942.8L1430.2,950.8L1417.7,957.1ZM1430.2,942.8L1439.0,940.0L1439.0,948.0L1430.2,950.8ZM1435.0,944.0L1443.0,930.0L1451.0,930.0L1443.0,944.0ZM1443.0,930.0L1449.0,917.0L1457.0,917.0L1451.0,930.0ZM1449.0,917.0L1453.8,903.5L1461.8,903.5L1457.0,917.0ZM1453.8,903.5L1457.6,891.6L1465.6,891.6L1461.8,903.5ZM1457.6,891.6L1462.6,879.1L1470.6,879.1L1465.6,891.6ZM1462.6,879.1L1466.3,866.5L1474.3,866.5L1470.6,879.1ZM1466.3,866.5L1470.1,857.0L1478.1,857.0L1474.3,866.5ZM1470.1,857.0L1473.9,847.7L1481.9,847.7L1478.1,857.0ZM1473.9,847.7L1477.6,833.9L1485.6,833.9L1481.9,847.7ZM1477.6,833.9L1481.4,820.1L1489.4,820.1L1485.6,833.9ZM1481.4,820.1L1486.4,805.1L1494.4,805.1L1489.4,820.1ZM1486.4,805.1L1491.4,791.3L1499.4,791.3L1494.4,805.1ZM1491.4,791.3L1496.0,779.0L1504.0,779.0L1499.4,791.3ZM1496.0,779.0L1504.0,752.0L1512.0,752.0L1504.0,779.0ZM1504.0,752.0L1516.0,716.0L1524.0,716.0L1512.0,752.0ZM1516.0,716.0L1528.0,678.0L1536.0,678.0L1524.0,716.0ZM1528.0,678.0L1538.0,646.0L1546.0,646.0L1536.0,678.0ZM1538.0,646.0L1546.0,630.0L1554.0,630.0L1546.0,646.0ZM1546.0,630.0L1553.0,618.0L1561.0,618.0L1554.0,630.0ZM1553.0,618.0L1561.6,608.0L1569.6,608.0L1561.0,618.0ZM1565.6,604.0L1583.8,615.4L1583.8,623.4L1565.6,612.0ZM1583.8,615.4L1594.2,625.8L1594.2,633.8L1583.8,623.4ZM1598.2,629.8L1607.0,640.2L1599.0,640.2L1590.2,629.8ZM1607.0,640.2L1611.5,647.6L1603.5,647.6L1599.0,640.2ZM1607.5,643.6L1619.5,651.7L1619.5,659.7L1607.5,651.6ZM1619.5,651.7L1643.1,651.0L1643.1,659.0L1619.5,659.7ZM1643.1,651.0L1655.0,653.9L1655.0,661.9L1643.1,659.0ZM1659.0,657.9L1664.9,668.0L1656.9,668.0L1651.0,657.9ZM1664.9,668.0L1671.6,680.4L1663.6,680.4L1656.9,668.0ZM1671.6,680.4L1680.4,693.0L1672.4,693.0L1663.6,680.4ZM1676.4,689.0L1685.2,697.7L1685.2,705.7L1676.4,697.0ZM1685.2,697.7L1692.7,696.5L1692.7,704.5L1685.2,705.7ZM1692.7,696.5L1702.7,695.2L1702.7,703.2L1692.7,704.5ZM1702.7,695.2L1714.0,697.7L1714.0,705.7L1702.7,703.2ZM1714.0,697.7L1720.3,691.5L1720.3,699.5L1714.0,705.7ZM1716.3,695.5L1722.6,688.0L1730.6,688.0L1724.3,695.5ZM1722.6,688.0L1727.6,677.9L1735.6,677.9L1730.6,688.0ZM1727.6,677.9L1732.6,665.4L1740.6,665.4L1735.6,677.9ZM1732.6,665.4L1738.9,652.8L1746.9,652.8L1740.6,665.4ZM1738.9,652.8L1746.4,642.8L1754.4,642.8L1746.9,652.8ZM1750.4,638.8L1757.9,632.5L1757.9,640.5L1750.4,646.8ZM1757.9,632.5L1768.0,632.5L1768.0,640.5L1757.9,640.5ZM1768.0,632.5L1778.0,636.3L1778.0,644.3L1768.0,640.5ZM1778.0,636.3L1788.0,641.3L1788.0,649.3L1778.0,644.3ZM1788.0,641.3L1798.1,643.8L1798.1,651.8L1788.0,649.3ZM1798.1,643.8L1808.1,648.8L1808.1,656.8L1798.1,651.8ZM1808.1,648.8L1823.1,649.5L1823.1,657.5L1808.1,656.8ZM1823.1,649.5L1838.2,652.6L1838.2,660.6L1823.1,657.5ZM1838.2,652.6L1847.0,650.1L1847.0,658.1L1838.2,660.6ZM1847.0,650.1L1855.8,643.8L1855.8,651.8L1847.0,658.1ZM1855.8,643.8L1863.3,648.8L1863.3,656.8L1855.8,651.8ZM1863.3,648.8L1870.8,653.8L1870.8,661.8L1863.3,656.8ZM1874.8,657.8L1882.3,665.4L1874.3,665.4L1866.8,657.8ZM1878.3,661.4L1885.9,663.9L1885.9,671.9L1878.3,669.4ZM1885.9,663.9L1893.0,661.0L1893.0,669.0L1885.9,671.9ZM1893.0,661.0L1903.0,651.0L1903.0,659.0L1893.0,669.0ZM1903.0,651.0L1914.0,641.0L1914.0,649.0L1903.0,659.0ZM1914.0,641.0L1926.0,633.0L1926.0,641.0L1914.0,649.0ZM1926.0,633.0L1936.0,627.0L1936.0,635.0L1926.0,641.0ZM1936.0,627.0L1948.0,615.0L1948.0,623.0L1936.0,635.0ZM1944.0,619.0L1952.0,607.0L1960.0,607.0L1952.0,619.0ZM1952.0,607.0L1960.0,595.0L1968.0,595.0L1960.0,607.0ZM1960.0,595.0L1965.0,587.0L1973.0,587.0L1968.0,595.0ZM1965.0,587.0L1972.0,576.0L1980.0,576.0L1973.0,587.0ZM1972.0,576.0L1976.0,566.0L1984.0,566.0L1980.0,576.0ZM1976.0,566.0L1984.0,555.0L1992.0,555.0L1984.0,566.0ZM1984.0,555.0L1994.0,543.0L2002.0,543.0L1992.0,555.0ZM1998.0,539.0L2015.7,527.0L2015.7,535.0L1998.0,547.0ZM2015.7,527.0L2031.2,530.5L2031.2,538.5L2015.7,535.0ZM2031.2,530.5L2046.7,540.1L2046.7,548.1L2031.2,538.5ZM2046.7,540.1L2060.3,551.8L2060.3,559.8L2046.7,548.1ZM2060.3,551.8L2073.8,559.5L2073.8,567.5L2060.3,559.8ZM2073.8,559.5L2083.5,565.3L2083.5,573.3L2073.8,567.5ZM2083.5,565.3L2093.2,557.6L2093.2,565.6L2083.5,573.3ZM2089.2,561.6L2098.9,548.0L2106.9,548.0L2097.2,561.6ZM2098.9,548.0L2108.6,534.5L2116.6,534.5L2106.9,548.0ZM2108.6,534.5L2120.2,522.8L2128.2,522.8L2116.6,534.5ZM2120.2,522.8L2129.9,509.3L2137.9,509.3L2128.2,522.8ZM2129.9,509.3L2139.6,499.6L2147.6,499.6L2137.9,509.3ZM2143.6,495.6L2155.2,496.5L2155.2,504.5L2143.6,503.6ZM2155.2,496.5L2172.7,500.4L2172.7,508.4L2155.2,504.5ZM2176.7,504.4L2188.3,517.0L2180.3,517.0L2168.7,504.4ZM2184.3,513.0L2188.0,516.0L2188.0,524.0L2184.3,521.0ZM1137.0,1365.5L1141.0,1369.5L1137.0,1373.5L1133.0,1369.5ZM1242.6,1216.9L1246.6,1220.9L1242.6,1224.9L1238.6,1220.9ZM1270.0,1194.1L1274.0,1198.1L1270.0,1202.1L1266.0,1198.1ZM1407.6,959.1L1411.6,963.1L1407.6,967.1L1403.6,963.1ZM1439.0,940.0L1443.0,944.0L1439.0,948.0L1435.0,944.0ZM1565.6,604.0L1569.6,608.0L1565.6,612.0L1561.6,608.0ZM1594.2,625.8L1598.2,629.8L1594.2,633.8L1590.2,629.8ZM1607.5,643.6L1611.5,647.6L1607.5,651.6L1603.5,647.6ZM1655.0,653.9L1659.0,657.9L1655.0,661.9L1651.0,657.9ZM1676.4,689.0L1680.4,693.0L1676.4,697.0L1672.4,693.0ZM1720.3,691.5L1724.3,695.5L1720.3,699.5L1716.3,695.5ZM1750.4,638.8L1754.4,642.8L1750.4,646.8L1746.4,642.8ZM1870.8,653.8L1874.8,657.8L1870.8,661.8L1866.8,657.8ZM1878.3,661.4L1882.3,665.4L1878.3,669.4L1874.3,665.4ZM1948.0,615.0L1952.0,619.0L1948.0,623.0L1944.0,619.0ZM1998.0,539.0L2002.0,543.0L1998.0,547.0L1994.0,543.0ZM2093.2,557.6L2097.2,561.6L2093.2,565.6L2089.2,561.6ZM2143.6,495.6L2147.6,499.6L2143.6,503.6L2139.6,499.6ZM2172.7,500.4L2176.7,504.4L2172.7,508.4L2168.7,504.4ZM2184.3,513.0L2188.3,517.0L2184.3,521.0L2180.3,517.0Z"/>
<path fill="#008000" stroke="none" d="M316.0,1562.0L434.0,1562.0L434.0,1570.0L316.0,1570.0ZM434.0,1562.0L438.0,1558.0L438.0,1566.0L434.0,1570.0ZM438.0,1558.0L636.0,1558.0L636.0,1566.0L438.0,1566.0ZM636.0,1558.0L652.0,1555.0L652.0,1563.0L636.0,1566.0ZM652.0,1555.0L660.0,1553.0L660.0,1561.0L652.0,1563.0ZM660.0,1553.0L668.0,1552.0L668.0,1560.0L660.0,1561.0ZM668.0,1552.0L688.0,1548.0L688.0,1556.0L668.0,1560.0ZM688.0,1548.0L708.0,1544.0L708.0,1552.0L688.0,1556.0ZM708.0,1544.0L728.0,1540.0L728.0,1548.0L708.0,1552.0ZM728.0,1540.0L750.0,1531.2L750.0,1539.2L728.0,1548.0ZM750.0,1531.2L792.9,1523.8L792.9,1531.8L750.0,1539.2ZM792.9,1523.8L835.7,1515.7L835.7,1523.7L792.9,1531.8ZM835.7,1515.7L878.6,1507.4L878.6,1515.4L835.7,1523.7ZM878.6,1507.4L921.4,1495.7L921.4,1503.7L878.6,1515.4ZM921.4,1495.7L964.3,1481.8L964.3,1489.8L921.4,1503.7ZM964.3,1481.8L1007.0,1461.8L1007.0,1469.8L964.3,1489.8ZM1007.0,1461.8L1035.7,1446.1L1035.7,1454.1L1007.0,1469.8ZM1035.7,1446.1L1050.0,1432.0L1050.0,1440.0L1035.7,1454.1ZM1050.0,1432.0L1057.0,1429.0L1057.0,1437.0L1050.0,1440.0ZM1057.0,1429.0L1074.0,1413.0L1074.0,1421.0L1057.0,1437.0ZM1074.0,1413.0L1091.0,1396.0L1091.0,1404.0L1074.0,1421.0ZM1087.0,1400.0L1104.0,1380.0L1112.0,1380.0L1095.0,1400.0ZM1108.0,1376.0L1120.0,1364.0L1120.0,1372.0L1108.0,1384.0ZM1116.0,1368.0L1133.0,1349.0L1141.0,1349.0L1124.0,1368.0ZM1133.0,1349.0L1146.0,1333.0L1154.0,1333.0L1141.0,1349.0ZM1146.0,1333.0L1161.0,1316.0L1169.0,1316.0L1154.0,1333.0ZM1161.0,1316.0L1173.6,1300.0L1181.6,1300.0L1169.0,1316.0ZM1173.6,1300.0L1182.8,1282.4L1190.8,1282.4L1181.6,1300.0ZM1182.8,1282.4L1190.7,1265.3L1198.7,1265.3L1190.8,1282.4ZM1190.7,1265.3L1198.7,1251.7L1206.7,1251.7L1198.7,1265.3ZM1198.7,1251.7L1206.7,1236.8L1214.7,1236.8L1206.7,1251.7ZM1206.7,1236.8L1215.8,1223.1L1223.8,1223.1L1214.7,1236.8ZM1215.8,1223.1L1223.8,1209.5L1231.8,1209.5L1223.8,1223.1ZM1223.8,1209.5L1230.6,1200.3L1238.6,1200.3L1231.8,1209.5ZM1234.6,1196.3L1242.6,1189.5L1242.6,1197.5L1234.6,1204.3ZM1242.6,1189.5L1254.0,1182.7L1254.0,1190.7L1242.6,1197.5ZM1254.0,1182.7L1265.4,1179.2L1265.4,1187.2L1254.0,1190.7ZM1265.4,1179.2L1273.4,1174.7L1273.4,1182.7L1265.4,1187.2ZM1273.4,1174.7L1281.4,1167.8L1281.4,1175.8L1273.4,1182.7ZM1281.4,1167.8L1289.4,1159.9L1289.4,1167.9L1281.4,1175.8ZM1285.4,1163.9L1291.0,1158.2L1299.0,1158.2L1293.4,1163.9ZM1291.0,1158.2L1305.6,1135.3L1313.6,1135.3L1299.0,1158.2ZM1305.6,1135.3L1325.6,1101.4L1333.6,1101.4L1313.6,1135.3ZM1325.6,1101.4L1345.5,1061.5L1353.5,1061.5L1333.6,1101.4ZM1345.5,1061.5L1365.5,1023.6L1373.5,1023.6L1353.5,1061.5ZM1365.5,1023.6L1378.5,995.7L1386.5,995.7L1373.5,1023.6ZM1378.5,995.7L1386.1,983.2L1394.1,983.2L1386.5,995.7ZM1386.1,983.2L1393.6,970.6L1401.6,970.6L1394.1,983.2ZM1393.6,970.6L1401.1,960.6L1409.1,960.6L1401.6,970.6ZM1405.1,956.6L1411.4,950.3L1411.4,958.3L1405.1,964.6ZM1411.4,950.3L1421.4,944.1L1421.4,952.1L1411.4,958.3ZM1421.4,944.1L1441.5,939.0L1441.5,947.0L1421.4,952.1ZM1437.5,943.0L1443.8,935.5L1451.8,935.5L1445.5,943.0ZM1443.8,935.5L1450.0,929.2L1458.0,929.2L1451.8,935.5ZM1450.0,929.2L1453.8,924.2L1461.8,924.2L1458.0,929.2ZM1453.8,924.2L1458.8,914.2L1466.8,914.2L1461.8,924.2ZM1458.8,914.2L1462.6,905.4L1470.6,905.4L1466.8,914.2ZM1462.6,905.4L1466.3,897.9L1474.3,897.9L1470.6,905.4ZM1466.3,897.9L1470.1,885.4L1478.1,885.4L1474.3,897.9ZM1470.1,885.4L1473.9,872.8L1481.9,872.8L1478.1,885.4ZM1473.9,872.8L1478.9,860.3L1486.9,860.3L1481.9,872.8ZM1478.9,860.3L1483.9,846.5L1491.9,846.5L1486.9,860.3ZM1483.9,846.5L1488.9,832.7L1496.9,832.7L1491.9,846.5ZM1488.9,832.7L1493.9,817.6L1501.9,817.6L1496.9,832.7ZM1493.9,817.6L1498.9,805.1L1506.9,805.1L1501.9,817.6ZM1498.9,805.1L1504.0,795.1L1512.0,795.1L1506.9,805.1ZM1504.0,795.1L1509.0,780.0L1517.0,780.0L1512.0,795.1ZM1509.0,780.0L1515.7,761.5L1523.7,761.5L1517.0,780.0ZM1515.7,761.5L1527.7,729.6L1535.7,729.6L1523.7,761.5ZM1527.7,729.6L1539.7,697.6L1547.7,697.6L1535.7,729.6ZM1539.7,697.6L1549.6,677.7L1557.6,677.7L1547.7,697.6ZM1549.6,677.7L1559.6,657.7L1567.6,657.7L1557.6,677.7ZM1563.6,653.7L1575.6,645.8L1575.6,653.8L1563.6,661.7ZM1575.6,645.8L1585.6,641.8L1585.6,649.8L1575.6,653.8ZM1585.6,641.8L1598.6,648.0L1598.6,656.0L1585.6,649.8ZM1598.6,648.0L1609.0,655.4L1609.0,663.4L1598.6,656.0ZM1609.0,655.4L1620.8,662.5L1620.8,670.5L1609.0,663.4ZM1620.8,662.5L1652.0,661.4L1652.0,669.4L1620.8,670.5ZM1656.0,665.4L1662.8,675.4L1654.8,675.4L1648.0,665.4ZM1662.8,675.4L1667.8,688.0L1659.8,688.0L1654.8,675.4ZM1667.8,688.0L1674.1,700.5L1666.1,700.5L1659.8,688.0ZM1674.1,700.5L1680.4,710.5L1672.4,710.5L1666.1,700.5ZM1676.4,706.5L1685.2,714.0L1685.2,722.0L1676.4,714.5ZM1685.2,714.0L1696.4,716.6L1696.4,724.6L1685.2,722.0ZM1696.4,716.6L1710.2,720.3L1710.2,728.3L1696.4,724.6ZM1710.2,720.3L1721.5,716.6L1721.5,724.6L1710.2,728.3ZM1717.5,720.6L1723.8,710.5L1731.8,710.5L1725.5,720.6ZM1723.8,710.5L1731.3,698.0L1739.3,698.0L1731.8,710.5ZM1731.3,698.0L1737.6,690.5L1745.6,690.5L1739.3,698.0ZM1737.6,690.5L1745.1,681.7L1753.1,681.7L1745.6,690.5ZM1749.1,677.7L1755.4,672.7L1755.4,680.7L1749.1,685.7ZM1755.4,672.7L1765.4,672.7L1765.4,680.7L1755.4,680.7ZM1765.4,672.7L1778.0,675.2L1778.0,683.2L1765.4,680.7ZM1778.0,675.2L1790.5,677.1L1790.5,685.1L1778.0,683.2ZM1790.5,677.1L1803.1,678.9L1803.1,686.9L1790.5,685.1ZM1803.1,678.9L1810.6,684.0L1810.6,692.0L1803.1,686.9ZM1810.6,684.0L1828.2,686.5L1828.2,694.5L1810.6,692.0ZM1828.2,686.5L1847.0,685.2L1847.0,693.2L1828.2,694.5ZM1847.0,685.2L1855.8,680.2L1855.8,688.2L1847.0,693.2ZM1855.8,680.2L1864.5,684.0L1864.5,692.0L1855.8,688.2ZM1864.5,684.0L1872.1,689.0L1872.1,697.0L1864.5,692.0ZM1872.1,689.0L1889.6,691.5L1889.6,699.5L1872.1,697.0ZM1885.6,695.5L1891.0,690.0L1899.0,690.0L1893.6,695.5ZM1891.0,690.0L1896.0,683.0L1904.0,683.0L1899.0,690.0ZM1896.0,683.0L1905.1,666.3L1913.1,666.3L1904.0,683.0ZM1909.1,662.3L1918.8,652.6L1918.8,660.6L1909.1,670.3ZM1918.8,652.6L1930.4,642.9L1930.4,650.9L1918.8,660.6ZM1926.4,646.9L1940.0,629.4L1948.0,629.4L1934.4,646.9ZM1940.0,629.4L1953.5,608.1L1961.5,608.1L1948.0,629.4ZM1953.5,608.1L1963.2,590.7L1971.2,590.7L1961.5,608.1ZM1963.2,590.7L1974.9,575.2L1982.9,575.2L1971.2,590.7ZM1974.9,575.2L1984.5,563.5L1992.5,563.5L1982.9,575.2ZM1988.5,559.5L2000.2,547.9L2000.2,555.9L1988.5,567.5ZM2000.2,547.9L2011.8,538.2L2011.8,546.2L2000.2,555.9ZM2011.8,538.2L2023.4,536.3L2023.4,544.3L2011.8,546.2ZM2023.4,536.3L2035.1,544.0L2035.1,552.0L2023.4,544.3ZM2035.1,544.0L2046.7,555.6L2046.7,563.6L2035.1,552.0ZM2046.7,555.6L2058.3,565.3L2058.3,573.3L2046.7,563.6ZM2058.3,565.3L2070.0,573.1L2070.0,581.1L2058.3,573.3ZM2074.0,577.1L2085.6,590.7L2077.6,590.7L2066.0,577.1ZM2081.6,586.7L2091.3,592.5L2091.3,600.5L2081.6,594.7ZM2091.3,592.5L2101.0,584.7L2101.0,592.7L2091.3,600.5ZM2097.0,588.7L2106.7,577.1L2114.7,577.1L2105.0,588.7ZM2106.7,577.1L2116.4,565.5L2124.4,565.5L2114.7,577.1ZM2120.4,561.5L2132.0,553.7L2132.0,561.7L2120.4,569.5ZM2128.0,557.7L2137.7,546.1L2145.7,546.1L2136.0,557.7ZM2141.7,542.1L2151.4,544.0L2151.4,552.0L2141.7,550.1ZM2151.4,544.0L2166.9,547.9L2166.9,555.9L2151.4,552.0ZM2166.9,547.9L2178.5,555.6L2178.5,563.6L2166.9,555.9ZM2178.5,555.6L2184.3,559.5L2184.3,567.5L2178.5,563.6ZM2184.3,559.5L2188.0,562.0L2188.0,570.0L2184.3,567.5ZM1091.0,1396.0L1095.0,1400.0L1091.0,1404.0L1087.0,1400.0ZM1108.0,1376.0L1112.0,1380.0L1108.0,1384.0L1104.0,1380.0ZM1120.0,1364.0L1124.0,1368.0L1120.0,1372.0L1116.0,1368.0ZM1234.6,1196.3L1238.6,1200.3L1234.6,1204.3L1230.6,1200.3ZM1289.4,1159.9L1293.4,1163.9L1289.4,1167.9L1285.4,1163.9ZM1405.1,956.6L1409.1,960.6L1405.1,964.6L1401.1,960.6ZM1441.5,939.0L1445.5,943.0L1441.5,947.0L1437.5,943.0ZM1563.6,653.7L1567.6,657.7L1563.6,661.7L1559.6,657.7ZM1652.0,661.4L1656.0,665.4L1652.0,669.4L1648.0,665.4ZM1676.4,706.5L1680.4,710.5L1676.4,714.5L1672.4,710.5ZM1721.5,716.6L1725.5,720.6L1721.5,724.6L1717.5,720.6ZM1749.1,677.7L1753.1,681.7L1749.1,685.7L1745.1,681.7ZM1889.6,691.5L1893.6,695.5L1889.6,699.5L1885.6,695.5ZM1909.1,662.3L1913.1,666.3L1909.1,670.3L1905.1,666.3ZM1930.4,642.9L1934.4,646.9L1930.4,650.9L1926.4,646.9ZM1988.5,559.5L1992.5,563.5L1988.5,567.5L1984.5,563.5ZM2070.0,573.1L2074.0,577.1L2070.0,581.1L2066.0,577.1ZM2081.6,586.7L2085.6,590.7L2081.6,594.7L2077.6,590.7ZM2101.0,584.7L2105.0,588.7L2101.0,592.7L2097.0,588.7ZM2120.4,561.5L2124.4,565.5L2120.4,569.5L2116.4,565.5ZM2132.0,553.7L2136.0,557.7L2132.0,561.7L2128.0,557.7ZM2141.7,542.1L2145.7,546.1L2141.7,550.1L2137.7,546.1Z"/>
<path fill="#ff8000" stroke="none" d="M316.0,1554.0L406.0,1554.0L406.0,1562.0L316.0,1562.0ZM406.0,1554.0L410.0,1550.0L410.0,1558.0L406.0,1562.0ZM410.0,1550.0L624.0,1550.0L624.0,1558.0L410.0,1558.0ZM624.0,1550.0L630.0,1546.0L630.0,1554.0L624.0,1558.0ZM630.0,1546.0L648.0,1545.0L648.0,1553.0L630.0,1554.0ZM648.0,1545.0L660.0,1542.0L660.0,1550.0L648.0,1553.0ZM660.0,1542.0L680.0,1538.0L680.0,1546.0L660.0,1550.0ZM680.0,1538.0L700.0,1534.0L700.0,1542.0L680.0,1546.0ZM700.0,1534.0L720.0,1530.0L720.0,1538.0L700.0,1542.0ZM720.0,1530.0L736.0,1526.0L736.0,1534.0L720.0,1538.0ZM736.0,1526.0L750.0,1523.0L750.0,1531.0L736.0,1534.0ZM750.0,1523.0L771.0,1518.6L771.0,1526.6L750.0,1531.0ZM771.0,1518.6L788.6,1514.3L788.6,1522.3L771.0,1526.6ZM788.6,1514.3L808.6,1510.3L808.6,1518.3L788.6,1522.3ZM808.6,1510.3L824.3,1506.4L824.3,1514.4L808.6,1518.3ZM824.3,1506.4L848.6,1502.4L848.6,1510.4L824.3,1514.4ZM848.6,1502.4L864.3,1498.4L864.3,1506.4L848.6,1510.4ZM864.3,1498.4L880.0,1494.3L880.0,1502.3L864.3,1506.4ZM880.0,1494.3L892.9,1490.3L892.9,1498.3L880.0,1502.3ZM892.9,1490.3L908.6,1486.4L908.6,1494.4L892.9,1498.3ZM908.6,1486.4L924.3,1482.4L924.3,1490.4L908.6,1494.4ZM924.3,1482.4L935.7,1478.3L935.7,1486.3L924.3,1490.4ZM935.7,1478.3L948.6,1474.3L948.6,1482.3L935.7,1486.3ZM948.6,1474.3L960.0,1470.4L960.0,1478.4L948.6,1482.3ZM960.0,1470.4L972.0,1466.4L972.0,1474.4L960.0,1478.4ZM972.0,1466.4L984.3,1462.4L984.3,1470.4L972.0,1474.4ZM984.3,1462.4L992.9,1458.4L992.9,1466.4L984.3,1470.4ZM992.9,1458.4L1000.0,1454.3L1000.0,1462.3L992.9,1466.4ZM1000.0,1454.3L1010.0,1451.0L1010.0,1459.0L1000.0,1462.3ZM1010.0,1451.0L1022.0,1449.0L1022.0,1457.0L1010.0,1459.0ZM1022.0,1449.0L1034.0,1445.0L1034.0,1453.0L1022.0,1457.0ZM1030.0,1449.0L1038.0,1440.0L1046.0,1440.0L1038.0,1449.0ZM1038.0,1440.0L1047.0,1430.0L1055.0,1430.0L1046.0,1440.0ZM1051.0,1426.0L1074.0,1404.0L1074.0,1412.0L1051.0,1434.0ZM1070.0,1408.0L1093.0,1381.5L1101.0,1381.5L1078.0,1408.0ZM1093.0,1381.5L1116.0,1350.7L1124.0,1350.7L1101.0,1381.5ZM1120.0,1346.7L1138.0,1332.0L1138.0,1340.0L1120.0,1354.7ZM1134.0,1336.0L1146.0,1323.0L1154.0,1323.0L1142.0,1336.0ZM1146.0,1323.0L1164.5,1300.0L1172.5,1300.0L1154.0,1323.0ZM1164.5,1300.0L1173.6,1282.4L1181.6,1282.4L1172.5,1300.0ZM1173.6,1282.4L1181.6,1265.3L1189.6,1265.3L1181.6,1282.4ZM1181.6,1265.3L1189.6,1251.7L1197.6,1251.7L1189.6,1265.3ZM1189.6,1251.7L1198.7,1236.8L1206.7,1236.8L1197.6,1251.7ZM1198.7,1236.8L1206.7,1223.1L1214.7,1223.1L1206.7,1236.8ZM1206.7,1223.1L1215.8,1209.5L1223.8,1209.5L1214.7,1223.1ZM1215.8,1209.5L1224.9,1198.1L1232.9,1198.1L1223.8,1209.5ZM1228.9,1194.1L1238.1,1184.9L1238.1,1192.9L1228.9,1202.1ZM1238.1,1184.9L1248.3,1178.1L1248.3,1186.1L1238.1,1192.9ZM1248.3,1178.1L1259.7,1171.3L1259.7,1179.3L1248.3,1186.1ZM1259.7,1171.3L1271.1,1164.4L1271.1,1172.4L1259.7,1179.3ZM1271.1,1164.4L1282.5,1155.3L1282.5,1163.3L1271.1,1172.4ZM1282.5,1155.3L1291.7,1147.3L1291.7,1155.3L1282.5,1163.3ZM1287.7,1151.3L1294.5,1143.3L1302.5,1143.3L1295.7,1151.3ZM1294.5,1143.3L1301.6,1133.3L1309.6,1133.3L1302.5,1143.3ZM1301.6,1133.3L1311.6,1117.4L1319.6,1117.4L1309.6,1133.3ZM1311.6,1117.4L1321.6,1097.4L1329.6,1097.4L1319.6,1117.4ZM1321.6,1097.4L1331.6,1075.5L1339.6,1075.5L1329.6,1097.4ZM1331.6,1075.5L1341.5,1053.5L1349.5,1053.5L1339.6,1075.5ZM1341.5,1053.5L1353.5,1029.6L1361.5,1029.6L1349.5,1053.5ZM1353.5,1029.6L1363.5,1009.6L1371.5,1009.6L1361.5,1029.6ZM1363.5,1009.6L1371.0,993.2L1379.0,993.2L1371.5,1009.6ZM1371.0,993.2L1378.5,983.0L1386.5,983.0L1379.0,993.2ZM1378.5,983.0L1386.1,971.5L1394.1,971.5L1386.5,983.0ZM1386.1,971.5L1394.8,959.0L1402.8,959.0L1394.1,971.5ZM1394.8,959.0L1402.4,950.0L1410.4,950.0L1402.8,959.0ZM1406.4,946.0L1413.9,940.5L1413.9,948.5L1406.4,954.0ZM1413.9,940.5L1423.9,937.5L1423.9,945.5L1413.9,948.5ZM1423.9,937.5L1436.5,935.3L1436.5,943.3L1423.9,945.5ZM1432.5,939.3L1438.7,931.8L1446.7,931.8L1440.5,939.3ZM1442.7,927.8L1450.3,920.2L1450.3,928.2L1442.7,935.8ZM1446.3,924.2L1452.5,912.9L1460.5,912.9L1454.3,924.2ZM1452.5,912.9L1458.8,899.2L1466.8,899.2L1460.5,912.9ZM1458.8,899.2L1463.8,886.6L1471.8,886.6L1466.8,899.2ZM1463.8,886.6L1468.8,870.3L1476.8,870.3L1471.8,886.6ZM1468.8,870.3L1473.9,855.3L1481.9,855.3L1476.8,870.3ZM1473.9,855.3L1478.9,836.4L1486.9,836.4L1481.9,855.3ZM1478.9,836.4L1483.9,820.1L1491.9,820.1L1486.9,836.4ZM1483.9,820.1L1488.9,805.1L1496.9,805.1L1491.9,820.1ZM1488.9,805.1L1493.9,792.5L1501.9,792.5L1496.9,805.1ZM1493.9,792.5L1498.9,780.0L1506.9,780.0L1501.9,792.5ZM1498.9,780.0L1507.7,749.5L1515.7,749.5L1506.9,780.0ZM1507.7,749.5L1519.7,715.6L1527.7,715.6L1515.7,749.5ZM1519.7,715.6L1531.7,677.7L1539.7,677.7L1527.7,715.6ZM1531.7,677.7L1541.7,645.8L1549.7,645.8L1539.7,677.7ZM1541.7,645.8L1549.6,629.8L1557.6,629.8L1549.7,645.8ZM1549.6,629.8L1559.6,617.8L1567.6,617.8L1557.6,629.8ZM1563.6,613.8L1574.9,608.0L1574.9,616.0L1563.6,621.8ZM1574.9,608.0L1591.2,609.5L1591.2,617.5L1574.9,616.0ZM1595.2,613.5L1602.6,622.4L1594.6,622.4L1587.2,613.5ZM1602.6,622.4L1610.0,632.7L1602.0,632.7L1594.6,622.4ZM1610.0,632.7L1617.4,644.6L1609.4,644.6L1602.0,632.7ZM1613.4,640.6L1625.3,648.0L1625.3,656.0L1613.4,648.6ZM1625.3,648.0L1635.7,643.6L1635.7,651.6L1625.3,656.0ZM1635.7,643.6L1655.0,643.6L1655.0,651.6L1635.7,651.6ZM1659.0,647.6L1664.9,656.5L1656.9,656.5L1651.0,647.6ZM1664.9,656.5L1673.8,671.3L1665.8,671.3L1656.9,656.5ZM1673.8,671.3L1681.2,683.1L1673.2,683.1L1665.8,671.3ZM1681.2,683.1L1686.6,689.2L1678.6,689.2L1673.2,683.1ZM1686.6,689.2L1694.2,698.0L1686.2,698.0L1678.6,689.2ZM1690.2,694.0L1699.0,700.3L1699.0,708.3L1690.2,702.0ZM1699.0,700.3L1710.2,705.3L1710.2,713.3L1699.0,708.3ZM1710.2,705.3L1722.8,705.3L1722.8,713.3L1710.2,713.3ZM1718.8,709.3L1723.8,698.0L1731.8,698.0L1726.8,709.3ZM1723.8,698.0L1730.1,682.9L1738.1,682.9L1731.8,698.0ZM1730.1,682.9L1736.4,670.4L1744.4,670.4L1738.1,682.9ZM1740.4,666.4L1747.9,658.9L1747.9,666.9L1740.4,674.4ZM1747.9,658.9L1755.4,652.6L1755.4,660.6L1747.9,666.9ZM1755.4,652.6L1761.7,648.8L1761.7,656.8L1755.4,660.6ZM1761.7,648.8L1770.5,653.8L1770.5,661.8L1761.7,656.8ZM1770.5,653.8L1780.5,656.4L1780.5,664.4L1770.5,661.8ZM1780.5,656.4L1790.5,662.6L1790.5,670.6L1780.5,664.4ZM1790.5,662.6L1800.6,666.4L1800.6,674.4L1790.5,670.6ZM1800.6,666.4L1808.1,672.7L1808.1,680.7L1800.6,674.4ZM1808.1,672.7L1818.1,678.9L1818.1,686.9L1808.1,680.7ZM1818.1,678.9L1835.7,680.2L1835.7,688.2L1818.1,686.9ZM1835.7,680.2L1844.5,676.4L1844.5,684.4L1835.7,688.2ZM1844.5,676.4L1853.2,670.1L1853.2,678.1L1844.5,684.4ZM1853.2,670.1L1863.3,668.9L1863.3,676.9L1853.2,678.1ZM1863.3,668.9L1870.8,673.9L1870.8,681.9L1863.3,676.9ZM1870.8,673.9L1882.1,676.4L1882.1,684.4L1870.8,681.9ZM1882.1,676.4L1889.6,672.7L1889.6,680.7L1882.1,684.4ZM1889.6,672.7L1898.0,666.0L1898.0,674.0L1889.6,680.7ZM1898.0,666.0L1905.2,660.3L1905.2,668.3L1898.0,674.0ZM1901.2,664.3L1914.8,644.9L1922.8,644.9L1909.2,664.3ZM1918.8,640.9L1938.2,631.3L1938.2,639.3L1918.8,648.9ZM1938.2,631.3L1953.7,619.6L1953.7,627.6L1938.2,639.3ZM1949.7,623.6L1959.4,604.2L1967.4,604.2L1957.7,623.6ZM1959.4,604.2L1969.0,584.8L1977.0,584.8L1967.4,604.2ZM1969.0,584.8L1976.8,567.4L1984.8,567.4L1977.0,584.8ZM1976.8,567.4L1986.5,551.9L1994.5,551.9L1984.8,567.4ZM1986.5,551.9L1998.1,534.5L2006.1,534.5L1994.5,551.9ZM2002.1,530.5L2013.7,522.7L2013.7,530.7L2002.1,538.5ZM2013.7,522.7L2023.4,520.8L2023.4,528.8L2013.7,530.7ZM2023.4,520.8L2035.1,524.6L2035.1,532.6L2023.4,528.8ZM2035.1,524.6L2046.7,530.5L2046.7,538.5L2035.1,532.6ZM2046.7,530.5L2058.3,540.1L2058.3,548.1L2046.7,538.5ZM2058.3,540.1L2070.0,549.8L2070.0,557.8L2058.3,548.1ZM2070.0,549.8L2081.6,557.6L2081.6,565.6L2070.0,557.8ZM2081.6,557.6L2093.2,559.5L2093.2,567.5L2081.6,565.6ZM2093.2,559.5L2104.8,553.7L2104.8,561.7L2093.2,567.5ZM2104.8,553.7L2116.5,547.9L2116.5,555.9L2104.8,561.7ZM2116.5,547.9L2132.0,546.0L2132.0,554.0L2116.5,555.9ZM2132.0,546.0L2139.7,546.0L2139.7,554.0L2132.0,554.0ZM2143.7,550.0L2151.5,561.6L2143.5,561.6L2135.7,550.0ZM2151.5,561.6L2157.3,577.1L2149.3,577.1L2143.5,561.6ZM2157.3,577.1L2165.1,592.6L2157.1,592.6L2149.3,577.1ZM2165.1,592.6L2172.8,606.2L2164.8,606.2L2157.1,592.6ZM2172.8,606.2L2180.6,619.7L2172.6,619.7L2164.8,606.2ZM2180.6,619.7L2188.3,633.3L2180.3,633.3L2172.6,619.7ZM2188.3,633.3L2192.0,640.0L2184.0,640.0L2180.3,633.3ZM1034.0,1445.0L1038.0,1449.0L1034.0,1453.0L1030.0,1449.0ZM1051.0,1426.0L1055.0,1430.0L1051.0,1434.0L1047.0,1430.0ZM1074.0,1404.0L1078.0,1408.0L1074.0,1412.0L1070.0,1408.0ZM1120.0,1346.7L1124.0,1350.7L1120.0,1354.7L1116.0,1350.7ZM1138.0,1332.0L1142.0,1336.0L1138.0,1340.0L1134.0,1336.0ZM1228.9,1194.1L1232.9,1198.1L1228.9,1202.1L1224.9,1198.1ZM1291.7,1147.3L1295.7,1151.3L1291.7,1155.3L1287.7,1151.3ZM1406.4,946.0L1410.4,950.0L1406.4,954.0L1402.4,950.0ZM1436.5,935.3L1440.5,939.3L1436.5,943.3L1432.5,939.3ZM1442.7,927.8L1446.7,931.8L1442.7,935.8L1438.7,931.8ZM1450.3,920.2L1454.3,924.2L1450.3,928.2L1446.3,924.2ZM1563.6,613.8L1567.6,617.8L1563.6,621.8L1559.6,617.8ZM1591.2,609.5L1595.2,613.5L1591.2,617.5L1587.2,613.5ZM1613.4,640.6L1617.4,644.6L1613.4,648.6L1609.4,644.6ZM1655.0,643.6L1659.0,647.6L1655.0,651.6L1651.0,647.6ZM1690.2,694.0L1694.2,698.0L1690.2,702.0L1686.2,698.0ZM1722.8,705.3L1726.8,709.3L1722.8,713.3L1718.8,709.3ZM1740.4,666.4L1744.4,670.4L1740.4,674.4L1736.4,670.4ZM1905.2,660.3L1909.2,664.3L1905.2,668.3L1901.2,664.3ZM1918.8,640.9L1922.8,644.9L1918.8,648.9L1914.8,644.9ZM1953.7,619.6L1957.7,623.6L1953.7,627.6L1949.7,623.6ZM2002.1,530.5L2006.1,534.5L2002.1,538.5L1998.1,534.5ZM2139.7,546.0L2143.7,550.0L2139.7,554.0L2135.7,550.0Z"/>
<path fill="#8000ff" stroke="none" d="M316.0,1554.0L422.0,1554.0L422.0,1562.0L316.0,1562.0ZM422.0,1554.0L426.0,1550.0L426.0,1558.0L422.0,1562.0ZM426.0,1550.0L640.0,1550.0L640.0,1558.0L426.0,1558.0ZM640.0,1550.0L652.0,1548.0L652.0,1556.0L640.0,1558.0ZM652.0,1548.0L676.0,1544.0L676.0,1552.0L652.0,1556.0ZM676.0,1544.0L700.0,1539.0L700.0,1547.0L676.0,1552.0ZM700.0,1539.0L720.0,1535.0L720.0,1543.0L700.0,1547.0ZM720.0,1535.0L750.0,1527.0L750.0,1535.0L720.0,1543.0ZM750.0,1527.0L792.9,1520.0L792.9,1528.0L750.0,1535.0ZM792.9,1520.0L835.7,1511.7L835.7,1519.7L792.9,1528.0ZM835.7,1511.7L878.6,1503.8L878.6,1511.8L835.7,1519.7ZM878.6,1503.8L921.4,1491.7L921.4,1499.7L878.6,1511.8ZM921.4,1491.7L964.3,1476.0L964.3,1484.0L921.4,1499.7ZM964.3,1476.0L1007.0,1456.0L1007.0,1464.0L964.3,1484.0ZM1007.0,1456.0L1035.7,1436.7L1035.7,1444.7L1007.0,1464.0ZM1031.7,1440.7L1046.0,1424.0L1054.0,1424.0L1039.7,1440.7ZM1046.0,1424.0L1070.0,1396.3L1078.0,1396.3L1054.0,1424.0ZM1070.0,1396.3L1081.4,1374.1L1089.4,1374.1L1078.0,1396.3ZM1081.4,1374.1L1092.8,1347.9L1100.8,1347.9L1089.4,1374.1ZM1092.8,1347.9L1104.2,1314.3L1112.2,1314.3L1100.8,1347.9ZM1104.2,1314.3L1116.0,1289.0L1124.0,1289.0L1112.2,1314.3ZM1116.0,1289.0L1128.0,1263.0L1136.0,1263.0L1124.0,1289.0ZM1128.0,1263.0L1138.3,1241.4L1146.3,1241.4L1136.0,1263.0ZM1138.3,1241.4L1144.0,1225.4L1152.0,1225.4L1146.3,1241.4ZM1144.0,1225.4L1152.0,1208.3L1160.0,1208.3L1152.0,1225.4ZM1152.0,1208.3L1159.9,1186.7L1167.9,1186.7L1160.0,1208.3ZM1159.9,1186.7L1167.9,1163.9L1175.9,1163.9L1167.9,1186.7ZM1167.9,1163.9L1175.9,1139.9L1183.9,1139.9L1175.9,1163.9ZM1175.9,1139.9L1182.7,1116.0L1190.7,1116.0L1183.9,1139.9ZM1182.7,1116.0L1187.3,1101.1L1195.3,1101.1L1190.7,1116.0ZM1187.3,1101.1L1199.9,1039.5L1207.9,1039.5L1195.3,1101.1ZM1199.9,1039.5L1207.9,1009.6L1215.9,1009.6L1207.9,1039.5ZM1207.9,1009.6L1219.8,977.7L1227.8,977.7L1215.9,1009.6ZM1219.8,977.7L1231.8,939.8L1239.8,939.8L1227.8,977.7ZM1231.8,939.8L1243.8,905.9L1251.8,905.9L1239.8,939.8ZM1243.8,905.9L1257.7,870.0L1265.7,870.0L1251.8,905.9ZM1257.7,870.0L1275.7,850.0L1283.7,850.0L1265.7,870.0ZM1275.7,850.0L1286.0,823.0L1294.0,823.0L1283.7,850.0ZM1286.0,823.0L1295.9,797.2L1303.9,797.2L1294.0,823.0ZM1295.9,797.2L1307.9,761.3L1315.9,761.3L1303.9,797.2ZM1307.9,761.3L1319.8,725.3L1327.8,725.3L1315.9,761.3ZM1319.8,725.3L1327.8,697.4L1335.8,697.4L1327.8,725.3ZM1327.8,697.4L1335.8,665.5L1343.8,665.5L1335.8,697.4ZM1335.8,665.5L1343.8,633.6L1351.8,633.6L1343.8,665.5ZM1343.8,633.6L1351.7,597.6L1359.7,597.6L1351.8,633.6ZM1351.7,597.6L1359.7,565.7L1367.7,565.7L1359.7,597.6ZM1359.7,565.7L1367.7,537.8L1375.7,537.8L1367.7,565.7ZM1367.7,537.8L1375.7,509.9L1383.7,509.9L1375.7,537.8ZM1375.7,509.9L1383.7,489.9L1391.7,489.9L1383.7,509.9ZM1383.7,489.9L1393.6,475.9L1401.6,475.9L1391.7,489.9ZM1397.6,471.9L1405.6,464.0L1405.6,472.0L1397.6,479.9ZM1405.6,464.0L1415.6,463.0L1415.6,471.0L1405.6,472.0ZM1415.6,463.0L1427.6,465.0L1427.6,473.0L1415.6,471.0ZM1431.6,469.0L1441.6,480.0L1433.6,480.0L1423.6,469.0ZM1437.6,476.0L1449.5,480.9L1449.5,488.9L1437.6,484.0ZM1449.5,480.9L1458.5,477.9L1458.5,485.9L1449.5,488.9ZM1454.5,481.9L1461.5,468.0L1469.5,468.0L1462.5,481.9ZM1461.5,468.0L1471.9,447.2L1479.9,447.2L1469.5,468.0ZM1471.9,447.2L1481.9,429.2L1489.9,429.2L1479.9,447.2ZM1481.9,429.2L1495.9,411.3L1503.9,411.3L1489.9,429.2ZM1495.9,411.3L1509.8,391.3L1517.8,391.3L1503.9,411.3ZM1509.8,391.3L1525.8,367.4L1533.8,367.4L1517.8,391.3ZM1525.8,367.4L1535.8,347.4L1543.8,347.4L1533.8,367.4ZM1535.8,347.4L1545.8,329.5L1553.8,329.5L1543.8,347.4ZM1545.8,329.5L1557.7,315.5L1565.7,315.5L1553.8,329.5ZM1561.7,311.5L1571.7,304.5L1571.7,312.5L1561.7,319.5ZM1571.7,304.5L1587.7,301.5L1587.7,309.5L1571.7,312.5ZM1587.7,301.5L1599.6,303.5L1599.6,311.5L1587.7,309.5ZM1599.6,303.5L1613.6,309.5L1613.6,317.5L1599.6,311.5ZM1613.6,309.5L1623.6,305.5L1623.6,313.5L1613.6,317.5ZM1619.6,309.5L1625.6,295.5L1633.6,295.5L1627.6,309.5ZM1625.6,295.5L1633.5,275.6L1641.5,275.6L1633.6,295.5ZM1633.5,275.6L1641.5,259.6L1649.5,259.6L1641.5,275.6ZM1641.5,259.6L1649.5,245.6L1657.5,245.6L1649.5,259.6ZM1653.5,241.6L1665.5,236.7L1665.5,244.7L1653.5,249.6ZM1665.5,236.7L1679.4,240.7L1679.4,248.7L1665.5,244.7ZM1679.4,240.7L1708.7,240.7L1708.7,248.7L1679.4,248.7ZM1712.7,244.7L1719.1,254.3L1711.1,254.3L1704.7,244.7ZM1715.1,250.3L1740.7,253.5L1740.7,261.5L1715.1,258.3ZM1740.7,253.5L1755.0,259.9L1755.0,267.9L1740.7,261.5ZM1759.0,263.9L1767.0,276.6L1759.0,276.6L1751.0,263.9ZM1767.0,276.6L1773.4,289.4L1765.4,289.4L1759.0,276.6ZM1773.4,289.4L1781.4,305.4L1773.4,305.4L1765.4,289.4ZM1781.4,305.4L1786.2,321.4L1778.2,321.4L1773.4,305.4ZM1786.2,321.4L1794.2,334.1L1786.2,334.1L1778.2,321.4ZM1794.2,334.1L1802.2,350.1L1794.2,350.1L1786.2,334.1ZM1802.2,350.1L1810.1,369.3L1802.1,369.3L1794.2,350.1ZM1810.1,369.3L1816.5,383.6L1808.5,383.6L1802.1,369.3ZM1816.5,383.6L1824.5,399.6L1816.5,399.6L1808.5,383.6ZM1824.5,399.6L1834.1,409.2L1826.1,409.2L1816.5,399.6ZM1830.1,405.2L1841.3,413.2L1841.3,421.2L1830.1,413.2ZM1837.3,417.2L1845.3,406.0L1853.3,406.0L1845.3,417.2ZM1845.3,406.0L1851.6,396.4L1859.6,396.4L1853.3,406.0ZM1855.6,392.4L1865.2,389.2L1865.2,397.2L1855.6,400.4ZM1865.2,389.2L1882.8,386.0L1882.8,394.0L1865.2,397.2ZM1882.8,386.0L1897.2,384.4L1897.2,392.4L1882.8,394.0ZM1893.2,388.4L1899.6,377.2L1907.6,377.2L1901.2,388.4ZM1899.6,377.2L1907.5,366.1L1915.5,366.1L1907.6,377.2ZM1907.5,366.1L1913.9,353.3L1921.9,353.3L1915.5,366.1ZM1913.9,353.3L1917.1,349.9L1925.1,349.9L1921.9,353.3ZM1921.1,345.9L1931.3,339.8L1931.3,347.8L1921.1,353.9ZM1931.3,339.8L1941.6,331.6L1941.6,339.6L1931.3,347.8ZM1941.6,331.6L1951.8,327.5L1951.8,335.5L1941.6,339.6ZM1951.8,327.5L1964.2,319.2L1964.2,327.2L1951.8,335.5ZM1964.2,319.2L1974.4,309.0L1974.4,317.0L1964.2,327.2ZM1974.4,309.0L1986.7,298.7L1986.7,306.7L1974.4,317.0ZM1986.7,298.7L1997.0,293.6L1997.0,301.6L1986.7,306.7ZM1997.0,293.6L2011.4,292.6L2011.4,300.6L1997.0,301.6ZM2011.4,292.6L2021.6,298.7L2021.6,306.7L2011.4,300.6ZM2021.6,298.7L2031.9,309.0L2031.9,317.0L2021.6,306.7ZM2031.9,309.0L2044.2,315.1L2044.2,323.1L2031.9,317.0ZM2048.2,319.1L2056.4,331.5L2048.4,331.5L2040.2,319.1ZM2052.4,327.5L2064.7,337.7L2064.7,345.7L2052.4,335.5ZM2068.7,341.7L2079.0,354.0L2071.0,354.0L2060.7,341.7ZM2075.0,350.0L2087.3,353.1L2087.3,361.1L2075.0,358.0ZM2087.3,353.1L2101.7,348.0L2101.7,356.0L2087.3,361.1ZM2101.7,348.0L2114.0,344.9L2114.0,352.9L2101.7,356.0ZM2114.0,344.9L2134.5,344.9L2134.5,352.9L2114.0,352.9ZM2134.5,344.9L2146.8,352.1L2146.8,360.1L2134.5,352.9ZM2150.8,356.1L2161.1,366.4L2153.1,366.4L2142.8,356.1ZM2157.1,362.4L2169.4,372.6L2169.4,380.6L2157.1,370.4ZM2173.4,376.6L2183.7,386.9L2175.7,386.9L2165.4,376.6ZM2183.7,386.9L2189.8,397.1L2181.8,397.1L2175.7,386.9ZM2189.8,397.1L2192.0,401.0L2184.0,401.0L2181.8,397.1ZM1035.7,1436.7L1039.7,1440.7L1035.7,1444.7L1031.7,1440.7ZM1397.6,471.9L1401.6,475.9L1397.6,479.9L1393.6,475.9ZM1427.6,465.0L1431.6,469.0L1427.6,473.0L1423.6,469.0ZM1437.6,476.0L1441.6,480.0L1437.6,484.0L1433.6,480.0ZM1458.5,477.9L1462.5,481.9L1458.5,485.9L1454.5,481.9ZM1561.7,311.5L1565.7,315.5L1561.7,319.5L1557.7,315.5ZM1623.6,305.5L1627.6,309.5L1623.6,313.5L1619.6,309.5ZM1653.5,241.6L1657.5,245.6L1653.5,249.6L1649.5,245.6ZM1708.7,240.7L1712.7,244.7L1708.7,248.7L1704.7,244.7ZM1715.1,250.3L1719.1,254.3L1715.1,258.3L1711.1,254.3ZM1755.0,259.9L1759.0,263.9L1755.0,267.9L1751.0,263.9ZM1830.1,405.2L1834.1,409.2L1830.1,413.2L1826.1,409.2ZM1841.3,413.2L1845.3,417.2L1841.3,421.2L1837.3,417.2ZM1855.6,392.4L1859.6,396.4L1855.6,400.4L1851.6,396.4ZM1897.2,384.4L1901.2,388.4L1897.2,392.4L1893.2,388.4ZM1921.1,345.9L1925.1,349.9L1921.1,353.9L1917.1,349.9ZM2044.2,315.1L2048.2,319.1L2044.2,323.1L2040.2,319.1ZM2052.4,327.5L2056.4,331.5L2052.4,335.5L2048.4,331.5ZM2064.7,337.7L2068.7,341.7L2064.7,345.7L2060.7,341.7ZM2075.0,350.0L2079.0,354.0L2075.0,358.0L2071.0,354.0ZM2146.8,352.1L2150.8,356.1L2146.8,360.1L2142.8,356.1ZM2157.1,362.4L2161.1,366.4L2157.1,370.4L2153.1,366.4ZM2169.4,372.6L2173.4,376.6L2169.4,380.6L2165.4,376.6Z"/>
</g>
<rect x="1642.5" y="807.5" width="488" height="700.5" fill="#fff" stroke="#000" stroke-width="4"/>
<g font-family="'Liberation Serif', serif" font-weight="bold" fill="#000" stroke="#fff" stroke-width="1.6" stroke-linejoin="round">
<rect x="1648" y="857.0" width="180" height="8" fill="#000000" stroke="none"/>
<text transform="translate(1842.88,884.54) scale(1.0372,1)" font-size="77.21">CWS0</text>
<rect x="1648" y="957.0" width="180" height="8" fill="#ff0000" stroke="none"/>
<text transform="translate(1842.91,984.24) scale(1.0245,1)" font-size="77.50">CWS0.5</text>
<rect x="1648" y="1057.5" width="180" height="8" fill="#0000ff" stroke="none"/>
<text transform="translate(1842.89,1084.53) scale(1.0241,1)" font-size="77.84">CWS1</text>
<rect x="1648" y="1153.0" width="180" height="8" fill="#ff00ff" stroke="none"/>
<text transform="translate(1842.91,1184.16) scale(0.9633,1)" font-size="82.42">CWS1.5</text>
<rect x="1648" y="1253.5" width="180" height="8" fill="#008000" stroke="none"/>
<text transform="translate(1842.91,1280.45) scale(1.0384,1)" font-size="76.51">CWS2</text>
<rect x="1648" y="1354.0" width="180" height="8" fill="#ff8000" stroke="none"/>
<text transform="translate(1842.91,1381.13) scale(1.0200,1)" font-size="77.84">CWS2.5</text>
<rect x="1648" y="1450.0" width="180" height="8" fill="#8000ff" stroke="none"/>
<text transform="translate(1842.92,1476.83) scale(1.0172,1)" font-size="77.84">CWS3</text>
<text transform="translate(188.29,96.17) scale(1.0893,1)" font-size="83.33">25</text>
<text transform="translate(188.18,396.17) scale(1.0966,1)" font-size="82.96">20</text>
<text transform="translate(188.78,698.66) scale(1.0799,1)" font-size="83.58">15</text>
<text transform="translate(188.79,1000.38) scale(1.0943,1)" font-size="82.37">10</text>
<text transform="translate(227.87,1300.16) scale(1.2268,1)" font-size="84.21">5</text>
<text transform="translate(229.27,1600.57) scale(1.1575,1)" font-size="82.52">0</text>
<text transform="translate(268.86,1693.13) scale(1.0862,1)" font-size="83.36">3.0</text>
<text transform="translate(733.31,1693.13) scale(1.0642,1)" font-size="83.73">3.5</text>
<text transform="translate(1202.63,1693.13) scale(1.0915,1)" font-size="83.36">4.0</text>
<text transform="translate(1666.78,1693.12) scale(1.0378,1)" font-size="84.23">4.5</text>
<text transform="translate(2132.62,1692.75) scale(1.1153,1)" font-size="82.47">5.0</text>
<text transform="translate(1110.32,1854.00) scale(1.0558,1)" font-size="86.46">h</text>
<text transform="translate(1165.02,1853.56) scale(1.3142,1)" font-size="94.46">ν</text>
<text transform="translate(1231.47,1855.13) scale(1.2252,1)" font-size="87.65" font-weight="normal">(</text>
<text transform="translate(1265.58,1852.47) scale(0.9995,1)" font-size="88.81">eV</text>
<text transform="translate(1368.96,1855.13) scale(1.2252,1)" font-size="87.65" font-weight="normal">)</text>
<text transform="translate(96.13,984.78) rotate(-90) scale(1.0139,1)" font-size="91.38">sqrt</text>
<text transform="translate(93.70,825.77) rotate(-90) scale(1.1764,1)" font-size="101.87" font-weight="normal">(</text>
<text transform="translate(96.11,786.22) rotate(-90) scale(1.0413,1)" font-size="91.37">Khν</text>
<text transform="translate(93.70,620.70) rotate(-90) scale(1.2260,1)" font-size="101.87" font-weight="normal">)</text>
</g>
</svg></body></html>
